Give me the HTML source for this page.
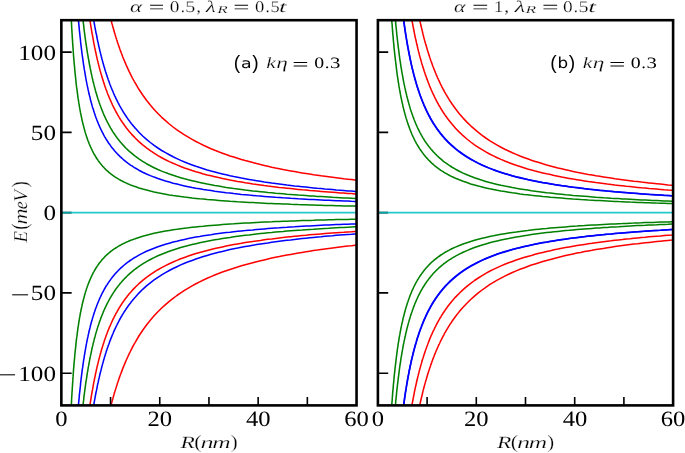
<!DOCTYPE html>
<html><head><meta charset="utf-8"><style>
html,body{margin:0;padding:0;background:#fff;}
body{width:685px;height:453px;overflow:hidden;}
svg{display:block;text-rendering:geometricPrecision;}
</style></head><body>
<svg width="685" height="453" viewBox="0 0 685 453">
<rect width="100%" height="100%" fill="#fff"/>
<clipPath id="c0"><rect x="61.35" y="20.20" width="295.20" height="385.20"/></clipPath>
<g clip-path="url(#c0)" fill="none" stroke-width="1.55" stroke-linejoin="round">
<polyline stroke="#008000" points="70.2,-4.1 70.3,-1.2 70.4,1.6 70.6,4.4 70.7,7.2 70.8,9.9 70.9,12.6 71.1,15.2 71.2,17.9 71.3,20.4 71.5,23.0 71.6,25.5 71.7,28.0 71.9,30.4 72.0,32.8 72.2,35.2 72.3,37.6 72.5,39.9 72.6,42.2 72.8,44.4 72.9,46.7 73.1,48.9 73.2,51.0 73.4,53.2 73.5,55.3 73.7,57.4 73.9,59.4 74.0,61.5 74.2,63.5 74.4,65.4 74.6,67.4 74.7,69.3 74.9,71.2 75.1,73.1 75.3,74.9 75.5,76.8 75.7,78.6 75.9,80.3 76.0,82.1 76.2,83.8 76.4,85.5 76.6,87.2 76.9,88.9 77.1,90.5 77.3,92.1 77.5,93.7 77.7,95.3 77.9,96.9 78.1,98.4 78.4,99.9 78.6,101.4 78.8,102.9 79.1,104.3 79.3,105.8 79.5,107.2 79.8,108.6 80.0,109.9 80.3,111.3 80.5,112.7 80.8,114.0 81.1,115.3 81.3,116.6 81.6,117.8 81.9,119.1 82.1,120.3 82.4,121.6 82.7,122.8 83.0,124.0 83.3,125.1 83.6,126.3 83.9,127.4 84.2,128.6 84.5,129.7 84.8,130.8 85.1,131.9 85.4,132.9 85.7,134.0 86.1,135.0 86.4,136.1 86.7,137.1 87.1,138.1 87.4,139.1 87.8,140.0 88.1,141.0 88.5,141.9 88.9,142.9 89.2,143.8 89.6,144.7 90.0,145.6 90.4,146.5 90.8,147.4 91.2,148.3 91.6,149.1 92.0,149.9 92.4,150.8 92.8,151.6 93.2,152.4 93.6,153.2 94.1,154.0 94.5,154.8 95.0,155.5 95.4,156.3 95.9,157.0 96.3,157.8 96.8,158.5 97.3,159.2 97.8,159.9 98.2,160.6 98.7,161.3 99.2,162.0 99.7,162.7 100.3,163.3 100.8,164.0 101.3,164.6 101.8,165.3 102.4,165.9 102.9,166.5 103.5,167.1 104.1,167.7 104.6,168.3 105.2,168.9 105.8,169.5 106.4,170.1 107.0,170.6 107.6,171.2 108.2,171.7 108.9,172.3 109.5,172.8 110.2,173.3 110.8,173.9 111.5,174.4 112.2,174.9 112.8,175.4 113.5,175.9 114.2,176.4 114.9,176.8 115.7,177.3 116.4,177.8 117.1,178.2 117.9,178.7 118.6,179.1 119.4,179.6 120.2,180.0 121.0,180.5 121.8,180.9 122.6,181.3 123.4,181.7 124.2,182.1 125.1,182.5 125.9,182.9 126.8,183.3 127.7,183.7 128.6,184.1 129.5,184.5 130.4,184.9 131.3,185.2 132.3,185.6 133.2,185.9 134.2,186.3 135.2,186.6 138.9,187.9 142.7,189.1 146.5,190.1 150.3,191.1 154.1,192.0 157.9,192.8 161.7,193.5 165.5,194.2 169.3,194.9 173.1,195.5 176.9,196.0 180.7,196.6 184.5,197.1 188.3,197.5 192.1,198.0 195.9,198.4 199.7,198.8 203.4,199.1 207.2,199.5 211.0,199.8 214.8,200.1 218.6,200.4 222.4,200.7 226.2,201.0 230.0,201.3 233.8,201.5 237.6,201.8 241.4,202.0 245.2,202.2 249.0,202.4 252.8,202.6 256.6,202.8 260.4,203.0 264.2,203.2 267.9,203.4 271.7,203.5 275.5,203.7 279.3,203.8 283.1,204.0 286.9,204.1 290.7,204.3 294.5,204.4 298.3,204.6 302.1,204.7 305.9,204.8 309.7,204.9 313.5,205.0 317.3,205.2 321.1,205.3 324.9,205.4 328.7,205.5 332.5,205.6 336.2,205.7 340.0,205.8 343.8,205.9 347.6,205.9 351.4,206.0 355.2,206.1 359.0,206.2"/>
<polyline stroke="#008000" points="70.2,429.4 70.3,426.5 70.4,423.7 70.6,420.9 70.7,418.1 70.8,415.4 70.9,412.7 71.1,410.1 71.2,407.4 71.3,404.9 71.5,402.3 71.6,399.8 71.7,397.3 71.9,394.9 72.0,392.5 72.2,390.1 72.3,387.7 72.5,385.4 72.6,383.1 72.8,380.9 72.9,378.6 73.1,376.4 73.2,374.3 73.4,372.1 73.5,370.0 73.7,367.9 73.9,365.9 74.0,363.8 74.2,361.8 74.4,359.9 74.6,357.9 74.7,356.0 74.9,354.1 75.1,352.2 75.3,350.4 75.5,348.5 75.7,346.7 75.9,345.0 76.0,343.2 76.2,341.5 76.4,339.8 76.6,338.1 76.9,336.4 77.1,334.8 77.3,333.2 77.5,331.6 77.7,330.0 77.9,328.4 78.1,326.9 78.4,325.4 78.6,323.9 78.8,322.4 79.1,321.0 79.3,319.5 79.5,318.1 79.8,316.7 80.0,315.4 80.3,314.0 80.5,312.6 80.8,311.3 81.1,310.0 81.3,308.7 81.6,307.5 81.9,306.2 82.1,305.0 82.4,303.7 82.7,302.5 83.0,301.3 83.3,300.2 83.6,299.0 83.9,297.9 84.2,296.7 84.5,295.6 84.8,294.5 85.1,293.4 85.4,292.4 85.7,291.3 86.1,290.3 86.4,289.2 86.7,288.2 87.1,287.2 87.4,286.2 87.8,285.3 88.1,284.3 88.5,283.4 88.9,282.4 89.2,281.5 89.6,280.6 90.0,279.7 90.4,278.8 90.8,277.9 91.2,277.0 91.6,276.2 92.0,275.4 92.4,274.5 92.8,273.7 93.2,272.9 93.6,272.1 94.1,271.3 94.5,270.5 95.0,269.8 95.4,269.0 95.9,268.3 96.3,267.5 96.8,266.8 97.3,266.1 97.8,265.4 98.2,264.7 98.7,264.0 99.2,263.3 99.7,262.6 100.3,262.0 100.8,261.3 101.3,260.7 101.8,260.0 102.4,259.4 102.9,258.8 103.5,258.2 104.1,257.6 104.6,257.0 105.2,256.4 105.8,255.8 106.4,255.2 107.0,254.7 107.6,254.1 108.2,253.6 108.9,253.0 109.5,252.5 110.2,252.0 110.8,251.4 111.5,250.9 112.2,250.4 112.8,249.9 113.5,249.4 114.2,248.9 114.9,248.5 115.7,248.0 116.4,247.5 117.1,247.1 117.9,246.6 118.6,246.2 119.4,245.7 120.2,245.3 121.0,244.8 121.8,244.4 122.6,244.0 123.4,243.6 124.2,243.2 125.1,242.8 125.9,242.4 126.8,242.0 127.7,241.6 128.6,241.2 129.5,240.8 130.4,240.4 131.3,240.1 132.3,239.7 133.2,239.4 134.2,239.0 135.2,238.7 138.9,237.4 142.7,236.2 146.5,235.2 150.3,234.2 154.1,233.3 157.9,232.5 161.7,231.8 165.5,231.1 169.3,230.4 173.1,229.8 176.9,229.3 180.7,228.7 184.5,228.2 188.3,227.8 192.1,227.3 195.9,226.9 199.7,226.5 203.4,226.2 207.2,225.8 211.0,225.5 214.8,225.2 218.6,224.9 222.4,224.6 226.2,224.3 230.0,224.0 233.8,223.8 237.6,223.5 241.4,223.3 245.2,223.1 249.0,222.9 252.8,222.7 256.6,222.5 260.4,222.3 264.2,222.1 267.9,221.9 271.7,221.8 275.5,221.6 279.3,221.5 283.1,221.3 286.9,221.2 290.7,221.0 294.5,220.9 298.3,220.7 302.1,220.6 305.9,220.5 309.7,220.4 313.5,220.3 317.3,220.1 321.1,220.0 324.9,219.9 328.7,219.8 332.5,219.7 336.2,219.6 340.0,219.5 343.8,219.4 347.6,219.4 351.4,219.3 355.2,219.2 359.0,219.1"/>
<polyline stroke="#0000ff" points="76.5,-4.1 76.7,-1.9 76.9,0.2 77.0,2.3 77.2,4.4 77.3,6.4 77.5,8.5 77.6,10.5 77.8,12.5 78.0,14.5 78.1,16.4 78.3,18.4 78.5,20.3 78.6,22.2 78.8,24.1 79.0,25.9 79.2,27.8 79.3,29.6 79.5,31.4 79.7,33.2 79.9,35.0 80.1,36.8 80.3,38.5 80.5,40.2 80.6,41.9 80.8,43.6 81.0,45.3 81.2,46.9 81.4,48.6 81.6,50.2 81.8,51.8 82.0,53.4 82.2,55.0 82.4,56.5 82.7,58.1 82.9,59.6 83.1,61.1 83.3,62.6 83.5,64.1 83.7,65.6 84.0,67.0 84.2,68.5 84.4,69.9 84.7,71.3 84.9,72.7 85.1,74.1 85.4,75.5 85.6,76.8 85.8,78.2 86.1,79.5 86.3,80.8 86.6,82.1 86.8,83.4 87.1,84.7 87.3,85.9 87.6,87.2 87.9,88.4 88.1,89.7 88.4,90.9 88.7,92.1 88.9,93.3 89.2,94.5 89.5,95.6 89.8,96.8 90.1,97.9 90.3,99.1 90.6,100.2 90.9,101.3 91.2,102.4 91.5,103.5 91.8,104.6 92.1,105.6 92.4,106.7 92.7,107.7 93.1,108.8 93.4,109.8 93.7,110.8 94.0,111.8 94.3,112.8 94.7,113.8 95.0,114.8 95.3,115.8 95.7,116.7 96.0,117.7 96.4,118.6 96.7,119.5 97.1,120.5 97.4,121.4 97.8,122.3 98.2,123.2 98.5,124.1 98.9,124.9 99.3,125.8 99.6,126.7 100.0,127.5 100.4,128.3 100.8,129.2 101.2,130.0 101.6,130.8 102.0,131.6 102.4,132.4 102.8,133.2 103.2,134.0 103.7,134.8 104.1,135.6 104.5,136.3 104.9,137.1 105.4,137.8 105.8,138.6 106.2,139.3 106.7,140.0 107.2,140.7 107.6,141.5 108.1,142.2 108.5,142.9 109.0,143.5 109.5,144.2 110.0,144.9 110.5,145.6 110.9,146.2 111.4,146.9 111.9,147.5 112.4,148.2 113.0,148.8 113.5,149.5 114.0,150.1 114.5,150.7 115.0,151.3 115.6,151.9 116.1,152.5 116.7,153.1 117.2,153.7 117.8,154.3 118.3,154.9 118.9,155.4 119.5,156.0 120.1,156.6 120.7,157.1 121.2,157.7 121.8,158.2 122.5,158.7 123.1,159.3 123.7,159.8 124.3,160.3 124.9,160.8 125.6,161.4 126.2,161.9 126.9,162.4 127.5,162.9 128.2,163.4 128.8,163.8 129.5,164.3 130.2,164.8 130.9,165.3 131.6,165.7 132.3,166.2 133.0,166.7 133.7,167.1 134.4,167.6 135.2,168.0 138.9,170.2 142.7,172.2 146.5,174.0 150.3,175.6 154.1,177.1 157.9,178.5 161.7,179.8 165.5,181.0 169.3,182.1 173.1,183.2 176.9,184.1 180.7,185.1 184.5,185.9 188.3,186.7 192.1,187.5 195.9,188.2 199.7,188.8 203.4,189.5 207.2,190.1 211.0,190.6 214.8,191.2 218.6,191.7 222.4,192.2 226.2,192.7 230.0,193.1 233.8,193.6 237.6,194.0 241.4,194.4 245.2,194.7 249.0,195.1 252.8,195.4 256.6,195.8 260.4,196.1 264.2,196.4 267.9,196.7 271.7,197.0 275.5,197.3 279.3,197.5 283.1,197.8 286.9,198.0 290.7,198.3 294.5,198.5 298.3,198.8 302.1,199.0 305.9,199.2 309.7,199.4 313.5,199.6 317.3,199.8 321.1,200.0 324.9,200.2 328.7,200.3 332.5,200.5 336.2,200.7 340.0,200.8 343.8,201.0 347.6,201.1 351.4,201.3 355.2,201.4 359.0,201.6"/>
<polyline stroke="#0000ff" points="76.5,429.4 76.7,427.2 76.9,425.1 77.0,423.0 77.2,420.9 77.3,418.9 77.5,416.8 77.6,414.8 77.8,412.8 78.0,410.8 78.1,408.9 78.3,406.9 78.5,405.0 78.6,403.1 78.8,401.2 79.0,399.4 79.2,397.5 79.3,395.7 79.5,393.9 79.7,392.1 79.9,390.3 80.1,388.5 80.3,386.8 80.5,385.1 80.6,383.4 80.8,381.7 81.0,380.0 81.2,378.4 81.4,376.7 81.6,375.1 81.8,373.5 82.0,371.9 82.2,370.3 82.4,368.8 82.7,367.2 82.9,365.7 83.1,364.2 83.3,362.7 83.5,361.2 83.7,359.7 84.0,358.3 84.2,356.8 84.4,355.4 84.7,354.0 84.9,352.6 85.1,351.2 85.4,349.8 85.6,348.5 85.8,347.1 86.1,345.8 86.3,344.5 86.6,343.2 86.8,341.9 87.1,340.6 87.3,339.4 87.6,338.1 87.9,336.9 88.1,335.6 88.4,334.4 88.7,333.2 88.9,332.0 89.2,330.8 89.5,329.7 89.8,328.5 90.1,327.4 90.3,326.2 90.6,325.1 90.9,324.0 91.2,322.9 91.5,321.8 91.8,320.7 92.1,319.7 92.4,318.6 92.7,317.6 93.1,316.5 93.4,315.5 93.7,314.5 94.0,313.5 94.3,312.5 94.7,311.5 95.0,310.5 95.3,309.5 95.7,308.6 96.0,307.6 96.4,306.7 96.7,305.8 97.1,304.8 97.4,303.9 97.8,303.0 98.2,302.1 98.5,301.2 98.9,300.4 99.3,299.5 99.6,298.6 100.0,297.8 100.4,297.0 100.8,296.1 101.2,295.3 101.6,294.5 102.0,293.7 102.4,292.9 102.8,292.1 103.2,291.3 103.7,290.5 104.1,289.7 104.5,289.0 104.9,288.2 105.4,287.5 105.8,286.7 106.2,286.0 106.7,285.3 107.2,284.6 107.6,283.8 108.1,283.1 108.5,282.4 109.0,281.8 109.5,281.1 110.0,280.4 110.5,279.7 110.9,279.1 111.4,278.4 111.9,277.8 112.4,277.1 113.0,276.5 113.5,275.8 114.0,275.2 114.5,274.6 115.0,274.0 115.6,273.4 116.1,272.8 116.7,272.2 117.2,271.6 117.8,271.0 118.3,270.4 118.9,269.9 119.5,269.3 120.1,268.7 120.7,268.2 121.2,267.6 121.8,267.1 122.5,266.6 123.1,266.0 123.7,265.5 124.3,265.0 124.9,264.5 125.6,263.9 126.2,263.4 126.9,262.9 127.5,262.4 128.2,261.9 128.8,261.5 129.5,261.0 130.2,260.5 130.9,260.0 131.6,259.6 132.3,259.1 133.0,258.6 133.7,258.2 134.4,257.7 135.2,257.3 138.9,255.1 142.7,253.1 146.5,251.3 150.3,249.7 154.1,248.2 157.9,246.8 161.7,245.5 165.5,244.3 169.3,243.2 173.1,242.1 176.9,241.2 180.7,240.2 184.5,239.4 188.3,238.6 192.1,237.8 195.9,237.1 199.7,236.5 203.4,235.8 207.2,235.2 211.0,234.7 214.8,234.1 218.6,233.6 222.4,233.1 226.2,232.6 230.0,232.2 233.8,231.7 237.6,231.3 241.4,230.9 245.2,230.6 249.0,230.2 252.8,229.9 256.6,229.5 260.4,229.2 264.2,228.9 267.9,228.6 271.7,228.3 275.5,228.0 279.3,227.8 283.1,227.5 286.9,227.3 290.7,227.0 294.5,226.8 298.3,226.5 302.1,226.3 305.9,226.1 309.7,225.9 313.5,225.7 317.3,225.5 321.1,225.3 324.9,225.1 328.7,225.0 332.5,224.8 336.2,224.6 340.0,224.5 343.8,224.3 347.6,224.2 351.4,224.0 355.2,223.9 359.0,223.7"/>
<polyline stroke="#008000" points="80.6,-4.1 80.8,-2.2 80.9,-0.4 81.1,1.4 81.3,3.1 81.4,4.9 81.6,6.7 81.8,8.4 81.9,10.1 82.1,11.8 82.3,13.5 82.5,15.2 82.6,16.8 82.8,18.5 83.0,20.1 83.2,21.7 83.4,23.4 83.6,24.9 83.8,26.5 83.9,28.1 84.1,29.6 84.3,31.2 84.5,32.7 84.7,34.2 84.9,35.7 85.1,37.2 85.3,38.7 85.5,40.2 85.7,41.6 85.9,43.1 86.1,44.5 86.4,45.9 86.6,47.3 86.8,48.7 87.0,50.1 87.2,51.4 87.4,52.8 87.7,54.1 87.9,55.5 88.1,56.8 88.3,58.1 88.6,59.4 88.8,60.7 89.0,62.0 89.3,63.3 89.5,64.5 89.7,65.8 90.0,67.0 90.2,68.2 90.5,69.4 90.7,70.6 91.0,71.8 91.2,73.0 91.5,74.2 91.7,75.4 92.0,76.5 92.2,77.7 92.5,78.8 92.8,79.9 93.0,81.0 93.3,82.2 93.6,83.3 93.9,84.3 94.1,85.4 94.4,86.5 94.7,87.6 95.0,88.6 95.3,89.7 95.5,90.7 95.8,91.7 96.1,92.7 96.4,93.7 96.7,94.7 97.0,95.7 97.3,96.7 97.6,97.7 97.9,98.7 98.2,99.6 98.6,100.6 98.9,101.5 99.2,102.5 99.5,103.4 99.8,104.3 100.2,105.2 100.5,106.1 100.8,107.0 101.2,107.9 101.5,108.8 101.8,109.7 102.2,110.5 102.5,111.4 102.9,112.2 103.2,113.1 103.6,113.9 103.9,114.8 104.3,115.6 104.7,116.4 105.0,117.2 105.4,118.0 105.8,118.8 106.2,119.6 106.5,120.4 106.9,121.2 107.3,121.9 107.7,122.7 108.1,123.4 108.5,124.2 108.9,124.9 109.3,125.7 109.7,126.4 110.1,127.1 110.5,127.9 111.0,128.6 111.4,129.3 111.8,130.0 112.2,130.7 112.7,131.4 113.1,132.1 113.5,132.7 114.0,133.4 114.4,134.1 114.9,134.7 115.3,135.4 115.8,136.0 116.2,136.7 116.7,137.3 117.2,138.0 117.7,138.6 118.1,139.2 118.6,139.8 119.1,140.4 119.6,141.1 120.1,141.7 120.6,142.3 121.1,142.8 121.6,143.4 122.1,144.0 122.6,144.6 123.1,145.2 123.7,145.7 124.2,146.3 124.7,146.9 125.3,147.4 125.8,148.0 126.4,148.5 126.9,149.0 127.5,149.6 128.0,150.1 128.6,150.6 129.2,151.2 129.7,151.7 130.3,152.2 130.9,152.7 131.5,153.2 132.1,153.7 132.7,154.2 133.3,154.7 133.9,155.2 134.5,155.7 135.2,156.1 138.9,158.9 142.7,161.4 146.5,163.7 150.3,165.8 154.1,167.7 157.9,169.5 161.7,171.1 165.5,172.6 169.3,174.0 173.1,175.3 176.9,176.6 180.7,177.7 184.5,178.8 188.3,179.8 192.1,180.7 195.9,181.6 199.7,182.5 203.4,183.3 207.2,184.1 211.0,184.8 214.8,185.5 218.6,186.1 222.4,186.8 226.2,187.4 230.0,187.9 233.8,188.5 237.6,189.0 241.4,189.5 245.2,190.0 249.0,190.4 252.8,190.9 256.6,191.3 260.4,191.7 264.2,192.1 267.9,192.5 271.7,192.8 275.5,193.2 279.3,193.5 283.1,193.8 286.9,194.2 290.7,194.5 294.5,194.8 298.3,195.1 302.1,195.3 305.9,195.6 309.7,195.9 313.5,196.1 317.3,196.4 321.1,196.6 324.9,196.8 328.7,197.0 332.5,197.3 336.2,197.5 340.0,197.7 343.8,197.9 347.6,198.1 351.4,198.3 355.2,198.5 359.0,198.6"/>
<polyline stroke="#008000" points="80.6,429.4 80.8,427.5 80.9,425.7 81.1,423.9 81.3,422.2 81.4,420.4 81.6,418.6 81.8,416.9 81.9,415.2 82.1,413.5 82.3,411.8 82.5,410.1 82.6,408.5 82.8,406.8 83.0,405.2 83.2,403.6 83.4,401.9 83.6,400.4 83.8,398.8 83.9,397.2 84.1,395.7 84.3,394.1 84.5,392.6 84.7,391.1 84.9,389.6 85.1,388.1 85.3,386.6 85.5,385.1 85.7,383.7 85.9,382.2 86.1,380.8 86.4,379.4 86.6,378.0 86.8,376.6 87.0,375.2 87.2,373.9 87.4,372.5 87.7,371.2 87.9,369.8 88.1,368.5 88.3,367.2 88.6,365.9 88.8,364.6 89.0,363.3 89.3,362.0 89.5,360.8 89.7,359.5 90.0,358.3 90.2,357.1 90.5,355.9 90.7,354.7 91.0,353.5 91.2,352.3 91.5,351.1 91.7,349.9 92.0,348.8 92.2,347.6 92.5,346.5 92.8,345.4 93.0,344.3 93.3,343.1 93.6,342.0 93.9,341.0 94.1,339.9 94.4,338.8 94.7,337.7 95.0,336.7 95.3,335.6 95.5,334.6 95.8,333.6 96.1,332.6 96.4,331.6 96.7,330.6 97.0,329.6 97.3,328.6 97.6,327.6 97.9,326.6 98.2,325.7 98.6,324.7 98.9,323.8 99.2,322.8 99.5,321.9 99.8,321.0 100.2,320.1 100.5,319.2 100.8,318.3 101.2,317.4 101.5,316.5 101.8,315.6 102.2,314.8 102.5,313.9 102.9,313.1 103.2,312.2 103.6,311.4 103.9,310.5 104.3,309.7 104.7,308.9 105.0,308.1 105.4,307.3 105.8,306.5 106.2,305.7 106.5,304.9 106.9,304.1 107.3,303.4 107.7,302.6 108.1,301.9 108.5,301.1 108.9,300.4 109.3,299.6 109.7,298.9 110.1,298.2 110.5,297.4 111.0,296.7 111.4,296.0 111.8,295.3 112.2,294.6 112.7,293.9 113.1,293.2 113.5,292.6 114.0,291.9 114.4,291.2 114.9,290.6 115.3,289.9 115.8,289.3 116.2,288.6 116.7,288.0 117.2,287.3 117.7,286.7 118.1,286.1 118.6,285.5 119.1,284.9 119.6,284.2 120.1,283.6 120.6,283.0 121.1,282.5 121.6,281.9 122.1,281.3 122.6,280.7 123.1,280.1 123.7,279.6 124.2,279.0 124.7,278.4 125.3,277.9 125.8,277.3 126.4,276.8 126.9,276.3 127.5,275.7 128.0,275.2 128.6,274.7 129.2,274.1 129.7,273.6 130.3,273.1 130.9,272.6 131.5,272.1 132.1,271.6 132.7,271.1 133.3,270.6 133.9,270.1 134.5,269.6 135.2,269.2 138.9,266.4 142.7,263.9 146.5,261.6 150.3,259.5 154.1,257.6 157.9,255.8 161.7,254.2 165.5,252.7 169.3,251.3 173.1,250.0 176.9,248.7 180.7,247.6 184.5,246.5 188.3,245.5 192.1,244.6 195.9,243.7 199.7,242.8 203.4,242.0 207.2,241.2 211.0,240.5 214.8,239.8 218.6,239.2 222.4,238.5 226.2,237.9 230.0,237.4 233.8,236.8 237.6,236.3 241.4,235.8 245.2,235.3 249.0,234.9 252.8,234.4 256.6,234.0 260.4,233.6 264.2,233.2 267.9,232.8 271.7,232.5 275.5,232.1 279.3,231.8 283.1,231.5 286.9,231.1 290.7,230.8 294.5,230.5 298.3,230.2 302.1,230.0 305.9,229.7 309.7,229.4 313.5,229.2 317.3,228.9 321.1,228.7 324.9,228.5 328.7,228.3 332.5,228.0 336.2,227.8 340.0,227.6 343.8,227.4 347.6,227.2 351.4,227.0 355.2,226.8 359.0,226.7"/>
<polyline stroke="#ff0000" points="86.8,-4.1 87.0,-2.6 87.1,-1.2 87.3,0.2 87.5,1.7 87.7,3.1 87.8,4.5 88.0,5.9 88.2,7.2 88.4,8.6 88.6,10.0 88.7,11.3 88.9,12.7 89.1,14.0 89.3,15.3 89.5,16.7 89.7,18.0 89.9,19.3 90.0,20.6 90.2,21.8 90.4,23.1 90.6,24.4 90.8,25.6 91.0,26.9 91.2,28.1 91.4,29.4 91.6,30.6 91.8,31.8 92.0,33.0 92.2,34.2 92.5,35.4 92.7,36.6 92.9,37.7 93.1,38.9 93.3,40.1 93.5,41.2 93.7,42.4 93.9,43.5 94.2,44.6 94.4,45.8 94.6,46.9 94.8,48.0 95.1,49.1 95.3,50.2 95.5,51.3 95.7,52.3 96.0,53.4 96.2,54.5 96.4,55.5 96.7,56.6 96.9,57.6 97.1,58.7 97.4,59.7 97.6,60.7 97.9,61.7 98.1,62.7 98.4,63.7 98.6,64.7 98.9,65.7 99.1,66.7 99.4,67.7 99.6,68.6 99.9,69.6 100.1,70.5 100.4,71.5 100.7,72.4 100.9,73.4 101.2,74.3 101.5,75.2 101.7,76.1 102.0,77.1 102.3,78.0 102.6,78.9 102.8,79.8 103.1,80.6 103.4,81.5 103.7,82.4 104.0,83.3 104.2,84.1 104.5,85.0 104.8,85.8 105.1,86.7 105.4,87.5 105.7,88.4 106.0,89.2 106.3,90.0 106.6,90.8 106.9,91.6 107.2,92.5 107.5,93.3 107.8,94.1 108.1,94.8 108.5,95.6 108.8,96.4 109.1,97.2 109.4,98.0 109.7,98.7 110.1,99.5 110.4,100.2 110.7,101.0 111.1,101.7 111.4,102.5 111.7,103.2 112.1,103.9 112.4,104.7 112.7,105.4 113.1,106.1 113.4,106.8 113.8,107.5 114.1,108.2 114.5,108.9 114.9,109.6 115.2,110.3 115.6,111.0 115.9,111.7 116.3,112.3 116.7,113.0 117.1,113.7 117.4,114.3 117.8,115.0 118.2,115.6 118.6,116.3 118.9,116.9 119.3,117.6 119.7,118.2 120.1,118.8 120.5,119.5 120.9,120.1 121.3,120.7 121.7,121.3 122.1,121.9 122.5,122.5 122.9,123.1 123.4,123.7 123.8,124.3 124.2,124.9 124.6,125.5 125.0,126.1 125.5,126.7 125.9,127.2 126.3,127.8 126.8,128.4 127.2,128.9 127.6,129.5 128.1,130.1 128.5,130.6 129.0,131.2 129.4,131.7 129.9,132.2 130.4,132.8 130.8,133.3 131.3,133.8 131.8,134.4 132.2,134.9 132.7,135.4 133.2,135.9 133.7,136.4 134.2,136.9 134.7,137.4 135.2,138.0 138.9,141.6 142.7,144.9 146.5,147.9 150.3,150.7 154.1,153.2 157.9,155.6 161.7,157.7 165.5,159.7 169.3,161.6 173.1,163.3 176.9,164.9 180.7,166.5 184.5,167.9 188.3,169.2 192.1,170.5 195.9,171.7 199.7,172.8 203.4,173.9 207.2,174.9 211.0,175.8 214.8,176.7 218.6,177.6 222.4,178.4 226.2,179.2 230.0,180.0 233.8,180.7 237.6,181.4 241.4,182.0 245.2,182.7 249.0,183.3 252.8,183.9 256.6,184.4 260.4,184.9 264.2,185.5 267.9,186.0 271.7,186.4 275.5,186.9 279.3,187.4 283.1,187.8 286.9,188.2 290.7,188.6 294.5,189.0 298.3,189.4 302.1,189.8 305.9,190.1 309.7,190.5 313.5,190.8 317.3,191.1 321.1,191.4 324.9,191.7 328.7,192.0 332.5,192.3 336.2,192.6 340.0,192.9 343.8,193.1 347.6,193.4 351.4,193.6 355.2,193.9 359.0,194.1"/>
<polyline stroke="#ff0000" points="86.8,429.4 87.0,427.9 87.1,426.5 87.3,425.1 87.5,423.6 87.7,422.2 87.8,420.8 88.0,419.4 88.2,418.1 88.4,416.7 88.6,415.3 88.7,414.0 88.9,412.6 89.1,411.3 89.3,410.0 89.5,408.6 89.7,407.3 89.9,406.0 90.0,404.7 90.2,403.5 90.4,402.2 90.6,400.9 90.8,399.7 91.0,398.4 91.2,397.2 91.4,395.9 91.6,394.7 91.8,393.5 92.0,392.3 92.2,391.1 92.5,389.9 92.7,388.7 92.9,387.6 93.1,386.4 93.3,385.2 93.5,384.1 93.7,382.9 93.9,381.8 94.2,380.7 94.4,379.5 94.6,378.4 94.8,377.3 95.1,376.2 95.3,375.1 95.5,374.0 95.7,373.0 96.0,371.9 96.2,370.8 96.4,369.8 96.7,368.7 96.9,367.7 97.1,366.6 97.4,365.6 97.6,364.6 97.9,363.6 98.1,362.6 98.4,361.6 98.6,360.6 98.9,359.6 99.1,358.6 99.4,357.6 99.6,356.7 99.9,355.7 100.1,354.8 100.4,353.8 100.7,352.9 100.9,351.9 101.2,351.0 101.5,350.1 101.7,349.2 102.0,348.2 102.3,347.3 102.6,346.4 102.8,345.5 103.1,344.7 103.4,343.8 103.7,342.9 104.0,342.0 104.2,341.2 104.5,340.3 104.8,339.5 105.1,338.6 105.4,337.8 105.7,336.9 106.0,336.1 106.3,335.3 106.6,334.5 106.9,333.7 107.2,332.8 107.5,332.0 107.8,331.2 108.1,330.5 108.5,329.7 108.8,328.9 109.1,328.1 109.4,327.3 109.7,326.6 110.1,325.8 110.4,325.1 110.7,324.3 111.1,323.6 111.4,322.8 111.7,322.1 112.1,321.4 112.4,320.6 112.7,319.9 113.1,319.2 113.4,318.5 113.8,317.8 114.1,317.1 114.5,316.4 114.9,315.7 115.2,315.0 115.6,314.3 115.9,313.6 116.3,313.0 116.7,312.3 117.1,311.6 117.4,311.0 117.8,310.3 118.2,309.7 118.6,309.0 118.9,308.4 119.3,307.7 119.7,307.1 120.1,306.5 120.5,305.8 120.9,305.2 121.3,304.6 121.7,304.0 122.1,303.4 122.5,302.8 122.9,302.2 123.4,301.6 123.8,301.0 124.2,300.4 124.6,299.8 125.0,299.2 125.5,298.6 125.9,298.1 126.3,297.5 126.8,296.9 127.2,296.4 127.6,295.8 128.1,295.2 128.5,294.7 129.0,294.1 129.4,293.6 129.9,293.1 130.4,292.5 130.8,292.0 131.3,291.5 131.8,290.9 132.2,290.4 132.7,289.9 133.2,289.4 133.7,288.9 134.2,288.4 134.7,287.9 135.2,287.3 138.9,283.7 142.7,280.4 146.5,277.4 150.3,274.6 154.1,272.1 157.9,269.7 161.7,267.6 165.5,265.6 169.3,263.7 173.1,262.0 176.9,260.4 180.7,258.8 184.5,257.4 188.3,256.1 192.1,254.8 195.9,253.6 199.7,252.5 203.4,251.4 207.2,250.4 211.0,249.5 214.8,248.6 218.6,247.7 222.4,246.9 226.2,246.1 230.0,245.3 233.8,244.6 237.6,243.9 241.4,243.3 245.2,242.6 249.0,242.0 252.8,241.4 256.6,240.9 260.4,240.4 264.2,239.8 267.9,239.3 271.7,238.9 275.5,238.4 279.3,237.9 283.1,237.5 286.9,237.1 290.7,236.7 294.5,236.3 298.3,235.9 302.1,235.5 305.9,235.2 309.7,234.8 313.5,234.5 317.3,234.2 321.1,233.9 324.9,233.6 328.7,233.3 332.5,233.0 336.2,232.7 340.0,232.4 343.8,232.2 347.6,231.9 351.4,231.7 355.2,231.4 359.0,231.2"/>
<polyline stroke="#0000ff" points="90.1,-4.1 90.3,-2.8 90.5,-1.5 90.7,-0.3 90.8,1.0 91.0,2.3 91.2,3.5 91.4,4.7 91.5,6.0 91.7,7.2 91.9,8.4 92.1,9.6 92.3,10.8 92.4,12.0 92.6,13.2 92.8,14.3 93.0,15.5 93.2,16.7 93.4,17.8 93.6,19.0 93.8,20.1 94.0,21.3 94.1,22.4 94.3,23.5 94.5,24.6 94.7,25.7 94.9,26.9 95.1,27.9 95.3,29.0 95.5,30.1 95.7,31.2 95.9,32.3 96.1,33.3 96.4,34.4 96.6,35.4 96.8,36.5 97.0,37.5 97.2,38.6 97.4,39.6 97.6,40.6 97.8,41.6 98.1,42.6 98.3,43.6 98.5,44.6 98.7,45.6 98.9,46.6 99.2,47.6 99.4,48.6 99.6,49.5 99.8,50.5 100.1,51.5 100.3,52.4 100.5,53.4 100.8,54.3 101.0,55.2 101.2,56.2 101.5,57.1 101.7,58.0 101.9,58.9 102.2,59.8 102.4,60.7 102.7,61.6 102.9,62.5 103.2,63.4 103.4,64.3 103.7,65.2 103.9,66.0 104.2,66.9 104.4,67.8 104.7,68.6 104.9,69.5 105.2,70.3 105.4,71.1 105.7,72.0 106.0,72.8 106.2,73.6 106.5,74.5 106.8,75.3 107.0,76.1 107.3,76.9 107.6,77.7 107.9,78.5 108.1,79.3 108.4,80.1 108.7,80.8 109.0,81.6 109.3,82.4 109.5,83.2 109.8,83.9 110.1,84.7 110.4,85.4 110.7,86.2 111.0,86.9 111.3,87.7 111.6,88.4 111.9,89.2 112.2,89.9 112.5,90.6 112.8,91.3 113.1,92.0 113.4,92.8 113.7,93.5 114.0,94.2 114.3,94.9 114.6,95.6 115.0,96.3 115.3,96.9 115.6,97.6 115.9,98.3 116.2,99.0 116.6,99.7 116.9,100.3 117.2,101.0 117.6,101.6 117.9,102.3 118.2,102.9 118.6,103.6 118.9,104.2 119.2,104.9 119.6,105.5 119.9,106.1 120.3,106.8 120.6,107.4 121.0,108.0 121.3,108.6 121.7,109.3 122.1,109.9 122.4,110.5 122.8,111.1 123.1,111.7 123.5,112.3 123.9,112.9 124.2,113.5 124.6,114.0 125.0,114.6 125.4,115.2 125.8,115.8 126.1,116.3 126.5,116.9 126.9,117.5 127.3,118.0 127.7,118.6 128.1,119.2 128.5,119.7 128.9,120.3 129.3,120.8 129.7,121.3 130.1,121.9 130.5,122.4 130.9,122.9 131.3,123.5 131.7,124.0 132.2,124.5 132.6,125.0 133.0,125.6 133.4,126.1 133.9,126.6 134.3,127.1 134.7,127.6 135.2,128.1 138.9,132.2 142.7,136.0 146.5,139.4 150.3,142.5 154.1,145.4 157.9,148.0 161.7,150.5 165.5,152.7 169.3,154.8 173.1,156.8 176.9,158.6 180.7,160.4 184.5,162.0 188.3,163.5 192.1,164.9 195.9,166.3 199.7,167.5 203.4,168.7 207.2,169.9 211.0,171.0 214.8,172.0 218.6,173.0 222.4,173.9 226.2,174.8 230.0,175.7 233.8,176.5 237.6,177.2 241.4,178.0 245.2,178.7 249.0,179.4 252.8,180.1 256.6,180.7 260.4,181.3 264.2,181.9 267.9,182.4 271.7,183.0 275.5,183.5 279.3,184.0 283.1,184.5 286.9,185.0 290.7,185.4 294.5,185.9 298.3,186.3 302.1,186.7 305.9,187.1 309.7,187.5 313.5,187.9 317.3,188.3 321.1,188.6 324.9,189.0 328.7,189.3 332.5,189.6 336.2,190.0 340.0,190.3 343.8,190.6 347.6,190.9 351.4,191.1 355.2,191.4 359.0,191.7"/>
<polyline stroke="#0000ff" points="90.1,429.4 90.3,428.1 90.5,426.8 90.7,425.6 90.8,424.3 91.0,423.0 91.2,421.8 91.4,420.6 91.5,419.3 91.7,418.1 91.9,416.9 92.1,415.7 92.3,414.5 92.4,413.3 92.6,412.1 92.8,411.0 93.0,409.8 93.2,408.6 93.4,407.5 93.6,406.3 93.8,405.2 94.0,404.0 94.1,402.9 94.3,401.8 94.5,400.7 94.7,399.6 94.9,398.4 95.1,397.4 95.3,396.3 95.5,395.2 95.7,394.1 95.9,393.0 96.1,392.0 96.4,390.9 96.6,389.9 96.8,388.8 97.0,387.8 97.2,386.7 97.4,385.7 97.6,384.7 97.8,383.7 98.1,382.7 98.3,381.7 98.5,380.7 98.7,379.7 98.9,378.7 99.2,377.7 99.4,376.7 99.6,375.8 99.8,374.8 100.1,373.8 100.3,372.9 100.5,371.9 100.8,371.0 101.0,370.1 101.2,369.1 101.5,368.2 101.7,367.3 101.9,366.4 102.2,365.5 102.4,364.6 102.7,363.7 102.9,362.8 103.2,361.9 103.4,361.0 103.7,360.1 103.9,359.3 104.2,358.4 104.4,357.5 104.7,356.7 104.9,355.8 105.2,355.0 105.4,354.2 105.7,353.3 106.0,352.5 106.2,351.7 106.5,350.8 106.8,350.0 107.0,349.2 107.3,348.4 107.6,347.6 107.9,346.8 108.1,346.0 108.4,345.2 108.7,344.5 109.0,343.7 109.3,342.9 109.5,342.1 109.8,341.4 110.1,340.6 110.4,339.9 110.7,339.1 111.0,338.4 111.3,337.6 111.6,336.9 111.9,336.1 112.2,335.4 112.5,334.7 112.8,334.0 113.1,333.3 113.4,332.5 113.7,331.8 114.0,331.1 114.3,330.4 114.6,329.7 115.0,329.0 115.3,328.4 115.6,327.7 115.9,327.0 116.2,326.3 116.6,325.6 116.9,325.0 117.2,324.3 117.6,323.7 117.9,323.0 118.2,322.4 118.6,321.7 118.9,321.1 119.2,320.4 119.6,319.8 119.9,319.2 120.3,318.5 120.6,317.9 121.0,317.3 121.3,316.7 121.7,316.0 122.1,315.4 122.4,314.8 122.8,314.2 123.1,313.6 123.5,313.0 123.9,312.4 124.2,311.8 124.6,311.3 125.0,310.7 125.4,310.1 125.8,309.5 126.1,309.0 126.5,308.4 126.9,307.8 127.3,307.3 127.7,306.7 128.1,306.1 128.5,305.6 128.9,305.0 129.3,304.5 129.7,304.0 130.1,303.4 130.5,302.9 130.9,302.4 131.3,301.8 131.7,301.3 132.2,300.8 132.6,300.3 133.0,299.7 133.4,299.2 133.9,298.7 134.3,298.2 134.7,297.7 135.2,297.2 138.9,293.1 142.7,289.3 146.5,285.9 150.3,282.8 154.1,279.9 157.9,277.3 161.7,274.8 165.5,272.6 169.3,270.5 173.1,268.5 176.9,266.7 180.7,264.9 184.5,263.3 188.3,261.8 192.1,260.4 195.9,259.0 199.7,257.8 203.4,256.6 207.2,255.4 211.0,254.3 214.8,253.3 218.6,252.3 222.4,251.4 226.2,250.5 230.0,249.6 233.8,248.8 237.6,248.1 241.4,247.3 245.2,246.6 249.0,245.9 252.8,245.2 256.6,244.6 260.4,244.0 264.2,243.4 267.9,242.9 271.7,242.3 275.5,241.8 279.3,241.3 283.1,240.8 286.9,240.3 290.7,239.9 294.5,239.4 298.3,239.0 302.1,238.6 305.9,238.2 309.7,237.8 313.5,237.4 317.3,237.0 321.1,236.7 324.9,236.3 328.7,236.0 332.5,235.7 336.2,235.3 340.0,235.0 343.8,234.7 347.6,234.4 351.4,234.2 355.2,233.9 359.0,233.6"/>
<polyline stroke="#ff0000" points="105.5,-4.1 105.7,-3.4 105.8,-2.7 106.0,-2.0 106.1,-1.3 106.2,-0.6 106.4,0.1 106.5,0.8 106.7,1.5 106.8,2.1 107.0,2.8 107.1,3.5 107.3,4.2 107.4,4.8 107.6,5.5 107.7,6.2 107.9,6.8 108.0,7.5 108.2,8.2 108.3,8.8 108.5,9.5 108.6,10.1 108.8,10.8 108.9,11.4 109.1,12.1 109.2,12.7 109.4,13.4 109.5,14.0 109.7,14.7 109.9,15.3 110.0,15.9 110.2,16.6 110.3,17.2 110.5,17.8 110.6,18.5 110.8,19.1 111.0,19.7 111.1,20.3 111.3,21.0 111.4,21.6 111.6,22.2 111.8,22.8 111.9,23.4 112.1,24.0 112.3,24.6 112.4,25.2 112.6,25.8 112.8,26.4 112.9,27.0 113.1,27.6 113.3,28.2 113.4,28.8 113.6,29.4 113.8,30.0 113.9,30.6 114.1,31.2 114.3,31.8 114.4,32.4 114.6,32.9 114.8,33.5 115.0,34.1 115.1,34.7 115.3,35.2 115.5,35.8 115.7,36.4 115.8,37.0 116.0,37.5 116.2,38.1 116.4,38.6 116.5,39.2 116.7,39.8 116.9,40.3 117.1,40.9 117.3,41.4 117.4,42.0 117.6,42.5 117.8,43.1 118.0,43.6 118.2,44.2 118.4,44.7 118.5,45.3 118.7,45.8 118.9,46.3 119.1,46.9 119.3,47.4 119.5,47.9 119.7,48.5 119.8,49.0 120.0,49.5 120.2,50.1 120.4,50.6 120.6,51.1 120.8,51.6 121.0,52.1 121.2,52.7 121.4,53.2 121.6,53.7 121.8,54.2 122.0,54.7 122.2,55.2 122.4,55.7 122.5,56.2 122.7,56.7 122.9,57.2 123.1,57.7 123.3,58.2 123.5,58.7 123.7,59.2 123.9,59.7 124.1,60.2 124.4,60.7 124.6,61.2 124.8,61.7 125.0,62.2 125.2,62.7 125.4,63.1 125.6,63.6 125.8,64.1 126.0,64.6 126.2,65.1 126.4,65.5 126.6,66.0 126.8,66.5 127.1,67.0 127.3,67.4 127.5,67.9 127.7,68.4 127.9,68.8 128.1,69.3 128.3,69.8 128.6,70.2 128.8,70.7 129.0,71.1 129.2,71.6 129.4,72.0 129.6,72.5 129.9,72.9 130.1,73.4 130.3,73.8 130.5,74.3 130.8,74.7 131.0,75.2 131.2,75.6 131.4,76.1 131.7,76.5 131.9,76.9 132.1,77.4 132.3,77.8 132.6,78.3 132.8,78.7 133.0,79.1 133.3,79.5 133.5,80.0 133.7,80.4 134.0,80.8 134.2,81.3 134.4,81.7 134.7,82.1 134.9,82.5 135.2,82.9 138.9,89.3 142.7,95.0 146.5,100.3 150.3,105.1 154.1,109.5 157.9,113.5 161.7,117.3 165.5,120.7 169.3,124.0 173.1,127.0 176.9,129.8 180.7,132.4 184.5,134.9 188.3,137.2 192.1,139.4 195.9,141.5 199.7,143.4 203.4,145.3 207.2,147.0 211.0,148.7 214.8,150.3 218.6,151.8 222.4,153.2 226.2,154.6 230.0,155.9 233.8,157.1 237.6,158.3 241.4,159.5 245.2,160.6 249.0,161.6 252.8,162.6 256.6,163.6 260.4,164.5 264.2,165.4 267.9,166.3 271.7,167.2 275.5,168.0 279.3,168.7 283.1,169.5 286.9,170.2 290.7,170.9 294.5,171.6 298.3,172.3 302.1,172.9 305.9,173.5 309.7,174.1 313.5,174.7 317.3,175.2 321.1,175.8 324.9,176.3 328.7,176.8 332.5,177.3 336.2,177.8 340.0,178.3 343.8,178.8 347.6,179.2 351.4,179.6 355.2,180.1 359.0,180.5"/>
<polyline stroke="#ff0000" points="105.5,429.4 105.7,428.7 105.8,428.0 106.0,427.3 106.1,426.6 106.2,425.9 106.4,425.2 106.5,424.5 106.7,423.8 106.8,423.2 107.0,422.5 107.1,421.8 107.3,421.1 107.4,420.5 107.6,419.8 107.7,419.1 107.9,418.5 108.0,417.8 108.2,417.1 108.3,416.5 108.5,415.8 108.6,415.2 108.8,414.5 108.9,413.9 109.1,413.2 109.2,412.6 109.4,411.9 109.5,411.3 109.7,410.6 109.9,410.0 110.0,409.4 110.2,408.7 110.3,408.1 110.5,407.5 110.6,406.8 110.8,406.2 111.0,405.6 111.1,405.0 111.3,404.3 111.4,403.7 111.6,403.1 111.8,402.5 111.9,401.9 112.1,401.3 112.3,400.7 112.4,400.1 112.6,399.5 112.8,398.9 112.9,398.3 113.1,397.7 113.3,397.1 113.4,396.5 113.6,395.9 113.8,395.3 113.9,394.7 114.1,394.1 114.3,393.5 114.4,392.9 114.6,392.4 114.8,391.8 115.0,391.2 115.1,390.6 115.3,390.1 115.5,389.5 115.7,388.9 115.8,388.3 116.0,387.8 116.2,387.2 116.4,386.7 116.5,386.1 116.7,385.5 116.9,385.0 117.1,384.4 117.3,383.9 117.4,383.3 117.6,382.8 117.8,382.2 118.0,381.7 118.2,381.1 118.4,380.6 118.5,380.0 118.7,379.5 118.9,379.0 119.1,378.4 119.3,377.9 119.5,377.4 119.7,376.8 119.8,376.3 120.0,375.8 120.2,375.2 120.4,374.7 120.6,374.2 120.8,373.7 121.0,373.2 121.2,372.6 121.4,372.1 121.6,371.6 121.8,371.1 122.0,370.6 122.2,370.1 122.4,369.6 122.5,369.1 122.7,368.6 122.9,368.1 123.1,367.6 123.3,367.1 123.5,366.6 123.7,366.1 123.9,365.6 124.1,365.1 124.4,364.6 124.6,364.1 124.8,363.6 125.0,363.1 125.2,362.6 125.4,362.2 125.6,361.7 125.8,361.2 126.0,360.7 126.2,360.2 126.4,359.8 126.6,359.3 126.8,358.8 127.1,358.3 127.3,357.9 127.5,357.4 127.7,356.9 127.9,356.5 128.1,356.0 128.3,355.5 128.6,355.1 128.8,354.6 129.0,354.2 129.2,353.7 129.4,353.3 129.6,352.8 129.9,352.4 130.1,351.9 130.3,351.5 130.5,351.0 130.8,350.6 131.0,350.1 131.2,349.7 131.4,349.2 131.7,348.8 131.9,348.4 132.1,347.9 132.3,347.5 132.6,347.0 132.8,346.6 133.0,346.2 133.3,345.8 133.5,345.3 133.7,344.9 134.0,344.5 134.2,344.0 134.4,343.6 134.7,343.2 134.9,342.8 135.2,342.4 138.9,336.0 142.7,330.3 146.5,325.0 150.3,320.2 154.1,315.8 157.9,311.8 161.7,308.0 165.5,304.6 169.3,301.3 173.1,298.3 176.9,295.5 180.7,292.9 184.5,290.4 188.3,288.1 192.1,285.9 195.9,283.8 199.7,281.9 203.4,280.0 207.2,278.3 211.0,276.6 214.8,275.0 218.6,273.5 222.4,272.1 226.2,270.7 230.0,269.4 233.8,268.2 237.6,267.0 241.4,265.8 245.2,264.7 249.0,263.7 252.8,262.7 256.6,261.7 260.4,260.8 264.2,259.9 267.9,259.0 271.7,258.1 275.5,257.3 279.3,256.6 283.1,255.8 286.9,255.1 290.7,254.4 294.5,253.7 298.3,253.0 302.1,252.4 305.9,251.8 309.7,251.2 313.5,250.6 317.3,250.1 321.1,249.5 324.9,249.0 328.7,248.5 332.5,248.0 336.2,247.5 340.0,247.0 343.8,246.5 347.6,246.1 351.4,245.7 355.2,245.2 359.0,244.8"/>
</g>
<path d="M61.35 52.12H71.65 M61.35 132.38H71.65 M61.35 212.65H71.65 M61.35 292.92H71.65 M61.35 373.18H71.65 M110.55 405.40V396.90 M159.75 405.40V396.90 M208.95 405.40V396.90 M258.15 405.40V396.90 M307.35 405.40V396.90" stroke="#000" stroke-width="1.6" fill="none"/>
<path d="M61.35 212.65H356.55" stroke="#00bfbf" stroke-opacity="0.85" stroke-width="1.8"/>
<rect x="61.35" y="20.20" width="295.20" height="385.20" fill="none" stroke="#000" stroke-width="2.6"/>
<clipPath id="c1"><rect x="377.90" y="20.20" width="295.20" height="385.20"/></clipPath>
<g clip-path="url(#c1)" fill="none" stroke-width="1.55" stroke-linejoin="round">
<polyline stroke="#008000" points="390.2,-4.1 390.4,-1.6 390.5,0.8 390.6,3.1 390.8,5.5 390.9,7.8 391.1,10.1 391.2,12.4 391.4,14.6 391.5,16.8 391.7,19.0 391.8,21.2 392.0,23.3 392.2,25.4 392.3,27.5 392.5,29.6 392.6,31.7 392.8,33.7 393.0,35.7 393.2,37.7 393.3,39.6 393.5,41.6 393.7,43.5 393.9,45.4 394.0,47.3 394.2,49.1 394.4,50.9 394.6,52.7 394.8,54.5 395.0,56.3 395.2,58.1 395.4,59.8 395.6,61.5 395.8,63.2 396.0,64.9 396.2,66.5 396.4,68.2 396.6,69.8 396.8,71.4 397.0,73.0 397.2,74.5 397.4,76.1 397.7,77.6 397.9,79.1 398.1,80.6 398.3,82.1 398.6,83.5 398.8,85.0 399.0,86.4 399.3,87.8 399.5,89.2 399.8,90.6 400.0,92.0 400.3,93.3 400.5,94.7 400.8,96.0 401.0,97.3 401.3,98.6 401.6,99.9 401.8,101.1 402.1,102.4 402.4,103.6 402.7,104.8 402.9,106.0 403.2,107.2 403.5,108.4 403.8,109.6 404.1,110.7 404.4,111.9 404.7,113.0 405.0,114.1 405.3,115.2 405.6,116.3 405.9,117.4 406.2,118.5 406.6,119.5 406.9,120.6 407.2,121.6 407.5,122.6 407.9,123.6 408.2,124.6 408.6,125.6 408.9,126.6 409.3,127.5 409.6,128.5 410.0,129.4 410.3,130.4 410.7,131.3 411.1,132.2 411.5,133.1 411.8,134.0 412.2,134.9 412.6,135.7 413.0,136.6 413.4,137.4 413.8,138.3 414.2,139.1 414.6,139.9 415.0,140.8 415.5,141.6 415.9,142.4 416.3,143.1 416.7,143.9 417.2,144.7 417.6,145.5 418.1,146.2 418.5,147.0 419.0,147.7 419.5,148.4 419.9,149.1 420.4,149.8 420.9,150.5 421.4,151.2 421.9,151.9 422.4,152.6 422.9,153.3 423.4,153.9 423.9,154.6 424.4,155.3 424.9,155.9 425.5,156.5 426.0,157.2 426.6,157.8 427.1,158.4 427.7,159.0 428.2,159.6 428.8,160.2 429.4,160.8 430.0,161.4 430.5,161.9 431.1,162.5 431.7,163.1 432.4,163.6 433.0,164.2 433.6,164.7 434.2,165.3 434.9,165.8 435.5,166.3 436.2,166.8 436.8,167.3 437.5,167.8 438.2,168.4 438.8,168.8 439.5,169.3 440.2,169.8 440.9,170.3 441.7,170.8 442.4,171.2 443.1,171.7 443.8,172.2 444.6,172.6 445.3,173.1 446.1,173.5 446.9,173.9 447.7,174.4 448.4,174.8 449.2,175.2 450.1,175.7 450.9,176.1 451.7,176.5 455.5,178.2 459.3,179.8 463.1,181.3 466.9,182.6 470.7,183.9 474.5,185.0 478.3,186.1 482.1,187.0 485.8,187.9 489.6,188.8 493.4,189.5 497.2,190.3 501.0,191.0 504.8,191.6 508.6,192.2 512.4,192.8 516.2,193.3 520.0,193.9 523.8,194.4 527.6,194.8 531.4,195.3 535.2,195.7 539.0,196.1 542.8,196.5 546.6,196.8 550.4,197.2 554.1,197.5 557.9,197.8 561.7,198.1 565.5,198.4 569.3,198.7 573.1,199.0 576.9,199.2 580.7,199.5 584.5,199.7 588.3,200.0 592.1,200.2 595.9,200.4 599.7,200.6 603.5,200.8 607.3,201.0 611.1,201.2 614.9,201.4 618.6,201.6 622.4,201.7 626.2,201.9 630.0,202.1 633.8,202.2 637.6,202.4 641.4,202.5 645.2,202.7 649.0,202.8 652.8,202.9 656.6,203.1 660.4,203.2 664.2,203.3 668.0,203.4 671.8,203.6 675.6,203.7"/>
<polyline stroke="#008000" points="390.2,429.4 390.4,426.9 390.5,424.5 390.6,422.2 390.8,419.8 390.9,417.5 391.1,415.2 391.2,412.9 391.4,410.7 391.5,408.5 391.7,406.3 391.8,404.1 392.0,402.0 392.2,399.9 392.3,397.8 392.5,395.7 392.6,393.6 392.8,391.6 393.0,389.6 393.2,387.6 393.3,385.7 393.5,383.7 393.7,381.8 393.9,379.9 394.0,378.0 394.2,376.2 394.4,374.4 394.6,372.6 394.8,370.8 395.0,369.0 395.2,367.2 395.4,365.5 395.6,363.8 395.8,362.1 396.0,360.4 396.2,358.8 396.4,357.1 396.6,355.5 396.8,353.9 397.0,352.3 397.2,350.8 397.4,349.2 397.7,347.7 397.9,346.2 398.1,344.7 398.3,343.2 398.6,341.8 398.8,340.3 399.0,338.9 399.3,337.5 399.5,336.1 399.8,334.7 400.0,333.3 400.3,332.0 400.5,330.6 400.8,329.3 401.0,328.0 401.3,326.7 401.6,325.4 401.8,324.2 402.1,322.9 402.4,321.7 402.7,320.5 402.9,319.3 403.2,318.1 403.5,316.9 403.8,315.7 404.1,314.6 404.4,313.4 404.7,312.3 405.0,311.2 405.3,310.1 405.6,309.0 405.9,307.9 406.2,306.8 406.6,305.8 406.9,304.7 407.2,303.7 407.5,302.7 407.9,301.7 408.2,300.7 408.6,299.7 408.9,298.7 409.3,297.8 409.6,296.8 410.0,295.9 410.3,294.9 410.7,294.0 411.1,293.1 411.5,292.2 411.8,291.3 412.2,290.4 412.6,289.6 413.0,288.7 413.4,287.9 413.8,287.0 414.2,286.2 414.6,285.4 415.0,284.5 415.5,283.7 415.9,282.9 416.3,282.2 416.7,281.4 417.2,280.6 417.6,279.8 418.1,279.1 418.5,278.3 419.0,277.6 419.5,276.9 419.9,276.2 420.4,275.5 420.9,274.8 421.4,274.1 421.9,273.4 422.4,272.7 422.9,272.0 423.4,271.4 423.9,270.7 424.4,270.0 424.9,269.4 425.5,268.8 426.0,268.1 426.6,267.5 427.1,266.9 427.7,266.3 428.2,265.7 428.8,265.1 429.4,264.5 430.0,263.9 430.5,263.4 431.1,262.8 431.7,262.2 432.4,261.7 433.0,261.1 433.6,260.6 434.2,260.0 434.9,259.5 435.5,259.0 436.2,258.5 436.8,258.0 437.5,257.5 438.2,256.9 438.8,256.5 439.5,256.0 440.2,255.5 440.9,255.0 441.7,254.5 442.4,254.1 443.1,253.6 443.8,253.1 444.6,252.7 445.3,252.2 446.1,251.8 446.9,251.4 447.7,250.9 448.4,250.5 449.2,250.1 450.1,249.6 450.9,249.2 451.7,248.8 455.5,247.1 459.3,245.5 463.1,244.0 466.9,242.7 470.7,241.4 474.5,240.3 478.3,239.2 482.1,238.3 485.8,237.4 489.6,236.5 493.4,235.8 497.2,235.0 501.0,234.3 504.8,233.7 508.6,233.1 512.4,232.5 516.2,232.0 520.0,231.4 523.8,230.9 527.6,230.5 531.4,230.0 535.2,229.6 539.0,229.2 542.8,228.8 546.6,228.5 550.4,228.1 554.1,227.8 557.9,227.5 561.7,227.2 565.5,226.9 569.3,226.6 573.1,226.3 576.9,226.1 580.7,225.8 584.5,225.6 588.3,225.3 592.1,225.1 595.9,224.9 599.7,224.7 603.5,224.5 607.3,224.3 611.1,224.1 614.9,223.9 618.6,223.7 622.4,223.6 626.2,223.4 630.0,223.2 633.8,223.1 637.6,222.9 641.4,222.8 645.2,222.6 649.0,222.5 652.8,222.4 656.6,222.2 660.4,222.1 664.2,222.0 668.0,221.9 671.8,221.7 675.6,221.6"/>
<polyline stroke="#008000" points="393.5,-4.1 393.6,-2.0 393.8,0.1 393.9,2.2 394.1,4.3 394.2,6.3 394.4,8.3 394.6,10.3 394.7,12.3 394.9,14.2 395.1,16.1 395.2,18.1 395.4,20.0 395.6,21.8 395.7,23.7 395.9,25.5 396.1,27.4 396.3,29.2 396.5,30.9 396.6,32.7 396.8,34.5 397.0,36.2 397.2,37.9 397.4,39.6 397.6,41.3 397.8,43.0 398.0,44.6 398.2,46.3 398.4,47.9 398.6,49.5 398.8,51.1 399.0,52.7 399.2,54.2 399.4,55.8 399.6,57.3 399.8,58.8 400.0,60.3 400.3,61.8 400.5,63.3 400.7,64.7 400.9,66.2 401.1,67.6 401.4,69.0 401.6,70.4 401.8,71.8 402.1,73.2 402.3,74.5 402.6,75.9 402.8,77.2 403.0,78.5 403.3,79.8 403.5,81.1 403.8,82.4 404.0,83.7 404.3,84.9 404.6,86.2 404.8,87.4 405.1,88.6 405.4,89.8 405.6,91.0 405.9,92.2 406.2,93.4 406.5,94.5 406.7,95.7 407.0,96.8 407.3,98.0 407.6,99.1 407.9,100.2 408.2,101.3 408.5,102.4 408.8,103.4 409.1,104.5 409.4,105.6 409.7,106.6 410.0,107.6 410.3,108.7 410.6,109.7 411.0,110.7 411.3,111.7 411.6,112.6 412.0,113.6 412.3,114.6 412.6,115.5 413.0,116.5 413.3,117.4 413.7,118.4 414.0,119.3 414.4,120.2 414.7,121.1 415.1,122.0 415.5,122.9 415.8,123.7 416.2,124.6 416.6,125.5 417.0,126.3 417.3,127.1 417.7,128.0 418.1,128.8 418.5,129.6 418.9,130.4 419.3,131.2 419.7,132.0 420.1,132.8 420.6,133.6 421.0,134.4 421.4,135.1 421.8,135.9 422.3,136.6 422.7,137.4 423.1,138.1 423.6,138.8 424.0,139.5 424.5,140.3 424.9,141.0 425.4,141.7 425.9,142.3 426.3,143.0 426.8,143.7 427.3,144.4 427.8,145.0 428.3,145.7 428.8,146.4 429.3,147.0 429.8,147.6 430.3,148.3 430.8,148.9 431.3,149.5 431.9,150.1 432.4,150.7 432.9,151.4 433.5,152.0 434.0,152.5 434.6,153.1 435.1,153.7 435.7,154.3 436.2,154.8 436.8,155.4 437.4,156.0 438.0,156.5 438.6,157.1 439.2,157.6 439.8,158.1 440.4,158.7 441.0,159.2 441.6,159.7 442.2,160.2 442.9,160.8 443.5,161.3 444.2,161.8 444.8,162.3 445.5,162.7 446.1,163.2 446.8,163.7 447.5,164.2 448.2,164.7 448.9,165.1 449.6,165.6 450.3,166.0 451.0,166.5 451.7,167.0 455.5,169.2 459.3,171.2 463.1,173.1 466.9,174.7 470.7,176.3 474.5,177.7 478.3,179.0 482.1,180.3 485.8,181.4 489.6,182.5 493.4,183.5 497.2,184.4 501.0,185.3 504.8,186.1 508.6,186.8 512.4,187.6 516.2,188.3 520.0,188.9 523.8,189.5 527.6,190.1 531.4,190.7 535.2,191.2 539.0,191.7 542.8,192.2 546.6,192.7 550.4,193.1 554.1,193.5 557.9,193.9 561.7,194.3 565.5,194.7 569.3,195.0 573.1,195.4 576.9,195.7 580.7,196.0 584.5,196.3 588.3,196.6 592.1,196.9 595.9,197.2 599.7,197.4 603.5,197.7 607.3,197.9 611.1,198.2 614.9,198.4 618.6,198.6 622.4,198.9 626.2,199.1 630.0,199.3 633.8,199.5 637.6,199.7 641.4,199.9 645.2,200.0 649.0,200.2 652.8,200.4 656.6,200.5 660.4,200.7 664.2,200.9 668.0,201.0 671.8,201.2 675.6,201.3"/>
<polyline stroke="#008000" points="393.5,429.4 393.6,427.3 393.8,425.2 393.9,423.1 394.1,421.0 394.2,419.0 394.4,417.0 394.6,415.0 394.7,413.0 394.9,411.1 395.1,409.2 395.2,407.2 395.4,405.3 395.6,403.5 395.7,401.6 395.9,399.8 396.1,397.9 396.3,396.1 396.5,394.4 396.6,392.6 396.8,390.8 397.0,389.1 397.2,387.4 397.4,385.7 397.6,384.0 397.8,382.3 398.0,380.7 398.2,379.0 398.4,377.4 398.6,375.8 398.8,374.2 399.0,372.6 399.2,371.1 399.4,369.5 399.6,368.0 399.8,366.5 400.0,365.0 400.3,363.5 400.5,362.0 400.7,360.6 400.9,359.1 401.1,357.7 401.4,356.3 401.6,354.9 401.8,353.5 402.1,352.1 402.3,350.8 402.6,349.4 402.8,348.1 403.0,346.8 403.3,345.5 403.5,344.2 403.8,342.9 404.0,341.6 404.3,340.4 404.6,339.1 404.8,337.9 405.1,336.7 405.4,335.5 405.6,334.3 405.9,333.1 406.2,331.9 406.5,330.8 406.7,329.6 407.0,328.5 407.3,327.3 407.6,326.2 407.9,325.1 408.2,324.0 408.5,322.9 408.8,321.9 409.1,320.8 409.4,319.7 409.7,318.7 410.0,317.7 410.3,316.6 410.6,315.6 411.0,314.6 411.3,313.6 411.6,312.7 412.0,311.7 412.3,310.7 412.6,309.8 413.0,308.8 413.3,307.9 413.7,306.9 414.0,306.0 414.4,305.1 414.7,304.2 415.1,303.3 415.5,302.4 415.8,301.6 416.2,300.7 416.6,299.8 417.0,299.0 417.3,298.2 417.7,297.3 418.1,296.5 418.5,295.7 418.9,294.9 419.3,294.1 419.7,293.3 420.1,292.5 420.6,291.7 421.0,290.9 421.4,290.2 421.8,289.4 422.3,288.7 422.7,287.9 423.1,287.2 423.6,286.5 424.0,285.8 424.5,285.0 424.9,284.3 425.4,283.6 425.9,283.0 426.3,282.3 426.8,281.6 427.3,280.9 427.8,280.3 428.3,279.6 428.8,278.9 429.3,278.3 429.8,277.7 430.3,277.0 430.8,276.4 431.3,275.8 431.9,275.2 432.4,274.6 432.9,273.9 433.5,273.3 434.0,272.8 434.6,272.2 435.1,271.6 435.7,271.0 436.2,270.5 436.8,269.9 437.4,269.3 438.0,268.8 438.6,268.2 439.2,267.7 439.8,267.2 440.4,266.6 441.0,266.1 441.6,265.6 442.2,265.1 442.9,264.5 443.5,264.0 444.2,263.5 444.8,263.0 445.5,262.6 446.1,262.1 446.8,261.6 447.5,261.1 448.2,260.6 448.9,260.2 449.6,259.7 450.3,259.3 451.0,258.8 451.7,258.3 455.5,256.1 459.3,254.1 463.1,252.2 466.9,250.6 470.7,249.0 474.5,247.6 478.3,246.3 482.1,245.0 485.8,243.9 489.6,242.8 493.4,241.8 497.2,240.9 501.0,240.0 504.8,239.2 508.6,238.5 512.4,237.7 516.2,237.0 520.0,236.4 523.8,235.8 527.6,235.2 531.4,234.6 535.2,234.1 539.0,233.6 542.8,233.1 546.6,232.6 550.4,232.2 554.1,231.8 557.9,231.4 561.7,231.0 565.5,230.6 569.3,230.3 573.1,229.9 576.9,229.6 580.7,229.3 584.5,229.0 588.3,228.7 592.1,228.4 595.9,228.1 599.7,227.9 603.5,227.6 607.3,227.4 611.1,227.1 614.9,226.9 618.6,226.7 622.4,226.4 626.2,226.2 630.0,226.0 633.8,225.8 637.6,225.6 641.4,225.4 645.2,225.3 649.0,225.1 652.8,224.9 656.6,224.8 660.4,224.6 664.2,224.4 668.0,224.3 671.8,224.1 675.6,224.0"/>
<polyline stroke="#0000ff" points="400.7,-4.1 400.9,-2.5 401.1,-0.9 401.2,0.7 401.4,2.2 401.6,3.8 401.7,5.3 401.9,6.9 402.1,8.4 402.3,9.9 402.5,11.4 402.6,12.8 402.8,14.3 403.0,15.8 403.2,17.2 403.4,18.7 403.6,20.1 403.8,21.5 404.0,22.9 404.2,24.3 404.3,25.7 404.5,27.1 404.7,28.4 404.9,29.8 405.1,31.1 405.3,32.5 405.5,33.8 405.7,35.1 406.0,36.4 406.2,37.7 406.4,39.0 406.6,40.3 406.8,41.5 407.0,42.8 407.2,44.0 407.4,45.3 407.7,46.5 407.9,47.7 408.1,49.0 408.3,50.2 408.6,51.4 408.8,52.5 409.0,53.7 409.2,54.9 409.5,56.0 409.7,57.2 409.9,58.3 410.2,59.5 410.4,60.6 410.7,61.7 410.9,62.8 411.1,63.9 411.4,65.0 411.6,66.1 411.9,67.2 412.1,68.3 412.4,69.3 412.7,70.4 412.9,71.4 413.2,72.5 413.4,73.5 413.7,74.5 414.0,75.5 414.2,76.5 414.5,77.5 414.8,78.5 415.0,79.5 415.3,80.5 415.6,81.5 415.9,82.4 416.2,83.4 416.4,84.4 416.7,85.3 417.0,86.2 417.3,87.2 417.6,88.1 417.9,89.0 418.2,89.9 418.5,90.8 418.8,91.7 419.1,92.6 419.4,93.5 419.7,94.4 420.0,95.2 420.3,96.1 420.6,97.0 421.0,97.8 421.3,98.6 421.6,99.5 421.9,100.3 422.2,101.1 422.6,102.0 422.9,102.8 423.2,103.6 423.6,104.4 423.9,105.2 424.2,106.0 424.6,106.8 424.9,107.5 425.3,108.3 425.6,109.1 426.0,109.8 426.3,110.6 426.7,111.4 427.1,112.1 427.4,112.8 427.8,113.6 428.2,114.3 428.5,115.0 428.9,115.7 429.3,116.5 429.7,117.2 430.1,117.9 430.4,118.6 430.8,119.3 431.2,119.9 431.6,120.6 432.0,121.3 432.4,122.0 432.8,122.6 433.2,123.3 433.6,124.0 434.1,124.6 434.5,125.3 434.9,125.9 435.3,126.5 435.7,127.2 436.2,127.8 436.6,128.4 437.0,129.0 437.5,129.7 437.9,130.3 438.4,130.9 438.8,131.5 439.3,132.1 439.7,132.7 440.2,133.3 440.6,133.8 441.1,134.4 441.6,135.0 442.0,135.6 442.5,136.1 443.0,136.7 443.5,137.3 444.0,137.8 444.5,138.4 444.9,138.9 445.4,139.4 445.9,140.0 446.4,140.5 447.0,141.1 447.5,141.6 448.0,142.1 448.5,142.6 449.0,143.1 449.6,143.6 450.1,144.2 450.6,144.7 451.2,145.2 451.7,145.7 455.5,148.9 459.3,151.9 463.1,154.6 466.9,157.1 470.7,159.4 474.5,161.4 478.3,163.4 482.1,165.2 485.8,166.8 489.6,168.4 493.4,169.9 497.2,171.2 501.0,172.5 504.8,173.7 508.6,174.8 512.4,175.9 516.2,176.9 520.0,177.9 523.8,178.8 527.6,179.6 531.4,180.4 535.2,181.2 539.0,182.0 542.8,182.7 546.6,183.3 550.4,184.0 554.1,184.6 557.9,185.2 561.7,185.8 565.5,186.3 569.3,186.8 573.1,187.3 576.9,187.8 580.7,188.3 584.5,188.7 588.3,189.2 592.1,189.6 595.9,190.0 599.7,190.4 603.5,190.7 607.3,191.1 611.1,191.4 614.9,191.8 618.6,192.1 622.4,192.4 626.2,192.7 630.0,193.0 633.8,193.3 637.6,193.6 641.4,193.9 645.2,194.2 649.0,194.4 652.8,194.7 656.6,194.9 660.4,195.1 664.2,195.4 668.0,195.6 671.8,195.8 675.6,196.0"/>
<polyline stroke="#0000ff" points="400.7,429.4 400.9,427.8 401.1,426.2 401.2,424.6 401.4,423.1 401.6,421.5 401.7,420.0 401.9,418.4 402.1,416.9 402.3,415.4 402.5,413.9 402.6,412.5 402.8,411.0 403.0,409.5 403.2,408.1 403.4,406.6 403.6,405.2 403.8,403.8 404.0,402.4 404.2,401.0 404.3,399.6 404.5,398.2 404.7,396.9 404.9,395.5 405.1,394.2 405.3,392.8 405.5,391.5 405.7,390.2 406.0,388.9 406.2,387.6 406.4,386.3 406.6,385.0 406.8,383.8 407.0,382.5 407.2,381.3 407.4,380.0 407.7,378.8 407.9,377.6 408.1,376.3 408.3,375.1 408.6,373.9 408.8,372.8 409.0,371.6 409.2,370.4 409.5,369.3 409.7,368.1 409.9,367.0 410.2,365.8 410.4,364.7 410.7,363.6 410.9,362.5 411.1,361.4 411.4,360.3 411.6,359.2 411.9,358.1 412.1,357.0 412.4,356.0 412.7,354.9 412.9,353.9 413.2,352.8 413.4,351.8 413.7,350.8 414.0,349.8 414.2,348.8 414.5,347.8 414.8,346.8 415.0,345.8 415.3,344.8 415.6,343.8 415.9,342.9 416.2,341.9 416.4,340.9 416.7,340.0 417.0,339.1 417.3,338.1 417.6,337.2 417.9,336.3 418.2,335.4 418.5,334.5 418.8,333.6 419.1,332.7 419.4,331.8 419.7,330.9 420.0,330.1 420.3,329.2 420.6,328.3 421.0,327.5 421.3,326.7 421.6,325.8 421.9,325.0 422.2,324.2 422.6,323.3 422.9,322.5 423.2,321.7 423.6,320.9 423.9,320.1 424.2,319.3 424.6,318.5 424.9,317.8 425.3,317.0 425.6,316.2 426.0,315.5 426.3,314.7 426.7,313.9 427.1,313.2 427.4,312.5 427.8,311.7 428.2,311.0 428.5,310.3 428.9,309.6 429.3,308.8 429.7,308.1 430.1,307.4 430.4,306.7 430.8,306.0 431.2,305.4 431.6,304.7 432.0,304.0 432.4,303.3 432.8,302.7 433.2,302.0 433.6,301.3 434.1,300.7 434.5,300.0 434.9,299.4 435.3,298.8 435.7,298.1 436.2,297.5 436.6,296.9 437.0,296.3 437.5,295.6 437.9,295.0 438.4,294.4 438.8,293.8 439.3,293.2 439.7,292.6 440.2,292.0 440.6,291.5 441.1,290.9 441.6,290.3 442.0,289.7 442.5,289.2 443.0,288.6 443.5,288.0 444.0,287.5 444.5,286.9 444.9,286.4 445.4,285.9 445.9,285.3 446.4,284.8 447.0,284.2 447.5,283.7 448.0,283.2 448.5,282.7 449.0,282.2 449.6,281.7 450.1,281.1 450.6,280.6 451.2,280.1 451.7,279.6 455.5,276.4 459.3,273.4 463.1,270.7 466.9,268.2 470.7,265.9 474.5,263.9 478.3,261.9 482.1,260.1 485.8,258.5 489.6,256.9 493.4,255.4 497.2,254.1 501.0,252.8 504.8,251.6 508.6,250.5 512.4,249.4 516.2,248.4 520.0,247.4 523.8,246.5 527.6,245.7 531.4,244.9 535.2,244.1 539.0,243.3 542.8,242.6 546.6,242.0 550.4,241.3 554.1,240.7 557.9,240.1 561.7,239.5 565.5,239.0 569.3,238.5 573.1,238.0 576.9,237.5 580.7,237.0 584.5,236.6 588.3,236.1 592.1,235.7 595.9,235.3 599.7,234.9 603.5,234.6 607.3,234.2 611.1,233.9 614.9,233.5 618.6,233.2 622.4,232.9 626.2,232.6 630.0,232.3 633.8,232.0 637.6,231.7 641.4,231.4 645.2,231.1 649.0,230.9 652.8,230.6 656.6,230.4 660.4,230.2 664.2,229.9 668.0,229.7 671.8,229.5 675.6,229.3"/>
<polyline stroke="#0000ff" points="400.9,-4.1 401.0,-2.5 401.2,-0.9 401.4,0.7 401.5,2.2 401.7,3.7 401.9,5.3 402.1,6.8 402.2,8.3 402.4,9.8 402.6,11.3 402.8,12.8 403.0,14.2 403.2,15.7 403.3,17.1 403.5,18.5 403.7,20.0 403.9,21.4 404.1,22.8 404.3,24.2 404.5,25.5 404.7,26.9 404.9,28.3 405.1,29.6 405.3,31.0 405.5,32.3 405.7,33.6 405.9,34.9 406.1,36.2 406.3,37.5 406.5,38.8 406.7,40.1 406.9,41.3 407.2,42.6 407.4,43.8 407.6,45.1 407.8,46.3 408.0,47.5 408.3,48.7 408.5,49.9 408.7,51.1 408.9,52.3 409.2,53.4 409.4,54.6 409.6,55.8 409.9,56.9 410.1,58.1 410.3,59.2 410.6,60.3 410.8,61.4 411.0,62.5 411.3,63.6 411.5,64.7 411.8,65.8 412.0,66.9 412.3,67.9 412.5,69.0 412.8,70.1 413.1,71.1 413.3,72.1 413.6,73.2 413.8,74.2 414.1,75.2 414.4,76.2 414.6,77.2 414.9,78.2 415.2,79.2 415.5,80.2 415.7,81.1 416.0,82.1 416.3,83.0 416.6,84.0 416.9,84.9 417.1,85.9 417.4,86.8 417.7,87.7 418.0,88.6 418.3,89.5 418.6,90.4 418.9,91.3 419.2,92.2 419.5,93.1 419.8,94.0 420.1,94.8 420.4,95.7 420.8,96.6 421.1,97.4 421.4,98.2 421.7,99.1 422.0,99.9 422.4,100.7 422.7,101.6 423.0,102.4 423.4,103.2 423.7,104.0 424.0,104.8 424.4,105.6 424.7,106.3 425.1,107.1 425.4,107.9 425.8,108.7 426.1,109.4 426.5,110.2 426.8,110.9 427.2,111.7 427.5,112.4 427.9,113.1 428.3,113.9 428.6,114.6 429.0,115.3 429.4,116.0 429.8,116.7 430.2,117.4 430.5,118.1 430.9,118.8 431.3,119.5 431.7,120.2 432.1,120.9 432.5,121.5 432.9,122.2 433.3,122.9 433.7,123.5 434.1,124.2 434.6,124.8 435.0,125.5 435.4,126.1 435.8,126.7 436.2,127.4 436.7,128.0 437.1,128.6 437.5,129.2 438.0,129.8 438.4,130.4 438.9,131.0 439.3,131.6 439.8,132.2 440.2,132.8 440.7,133.4 441.2,134.0 441.6,134.6 442.1,135.1 442.6,135.7 443.0,136.3 443.5,136.8 444.0,137.4 444.5,137.9 445.0,138.5 445.5,139.0 446.0,139.6 446.5,140.1 447.0,140.6 447.5,141.1 448.0,141.7 448.5,142.2 449.0,142.7 449.6,143.2 450.1,143.7 450.6,144.2 451.2,144.7 451.7,145.2 455.5,148.5 459.3,151.5 463.1,154.2 466.9,156.7 470.7,159.0 474.5,161.1 478.3,163.1 482.1,164.9 485.8,166.6 489.6,168.1 493.4,169.6 497.2,171.0 501.0,172.2 504.8,173.4 508.6,174.6 512.4,175.7 516.2,176.7 520.0,177.6 523.8,178.5 527.6,179.4 531.4,180.2 535.2,181.0 539.0,181.8 542.8,182.5 546.6,183.1 550.4,183.8 554.1,184.4 557.9,185.0 561.7,185.6 565.5,186.1 569.3,186.7 573.1,187.2 576.9,187.6 580.7,188.1 584.5,188.6 588.3,189.0 592.1,189.4 595.9,189.8 599.7,190.2 603.5,190.6 607.3,191.0 611.1,191.3 614.9,191.7 618.6,192.0 622.4,192.3 626.2,192.6 630.0,192.9 633.8,193.2 637.6,193.5 641.4,193.8 645.2,194.0 649.0,194.3 652.8,194.5 656.6,194.8 660.4,195.0 664.2,195.3 668.0,195.5 671.8,195.7 675.6,195.9"/>
<polyline stroke="#0000ff" points="400.9,429.4 401.0,427.8 401.2,426.2 401.4,424.6 401.5,423.1 401.7,421.6 401.9,420.0 402.1,418.5 402.2,417.0 402.4,415.5 402.6,414.0 402.8,412.5 403.0,411.1 403.2,409.6 403.3,408.2 403.5,406.8 403.7,405.3 403.9,403.9 404.1,402.5 404.3,401.1 404.5,399.8 404.7,398.4 404.9,397.0 405.1,395.7 405.3,394.3 405.5,393.0 405.7,391.7 405.9,390.4 406.1,389.1 406.3,387.8 406.5,386.5 406.7,385.2 406.9,384.0 407.2,382.7 407.4,381.5 407.6,380.2 407.8,379.0 408.0,377.8 408.3,376.6 408.5,375.4 408.7,374.2 408.9,373.0 409.2,371.9 409.4,370.7 409.6,369.5 409.9,368.4 410.1,367.2 410.3,366.1 410.6,365.0 410.8,363.9 411.0,362.8 411.3,361.7 411.5,360.6 411.8,359.5 412.0,358.4 412.3,357.4 412.5,356.3 412.8,355.2 413.1,354.2 413.3,353.2 413.6,352.1 413.8,351.1 414.1,350.1 414.4,349.1 414.6,348.1 414.9,347.1 415.2,346.1 415.5,345.1 415.7,344.2 416.0,343.2 416.3,342.3 416.6,341.3 416.9,340.4 417.1,339.4 417.4,338.5 417.7,337.6 418.0,336.7 418.3,335.8 418.6,334.9 418.9,334.0 419.2,333.1 419.5,332.2 419.8,331.3 420.1,330.5 420.4,329.6 420.8,328.7 421.1,327.9 421.4,327.1 421.7,326.2 422.0,325.4 422.4,324.6 422.7,323.7 423.0,322.9 423.4,322.1 423.7,321.3 424.0,320.5 424.4,319.7 424.7,319.0 425.1,318.2 425.4,317.4 425.8,316.6 426.1,315.9 426.5,315.1 426.8,314.4 427.2,313.6 427.5,312.9 427.9,312.2 428.3,311.4 428.6,310.7 429.0,310.0 429.4,309.3 429.8,308.6 430.2,307.9 430.5,307.2 430.9,306.5 431.3,305.8 431.7,305.1 432.1,304.4 432.5,303.8 432.9,303.1 433.3,302.4 433.7,301.8 434.1,301.1 434.6,300.5 435.0,299.8 435.4,299.2 435.8,298.6 436.2,297.9 436.7,297.3 437.1,296.7 437.5,296.1 438.0,295.5 438.4,294.9 438.9,294.3 439.3,293.7 439.8,293.1 440.2,292.5 440.7,291.9 441.2,291.3 441.6,290.7 442.1,290.2 442.6,289.6 443.0,289.0 443.5,288.5 444.0,287.9 444.5,287.4 445.0,286.8 445.5,286.3 446.0,285.7 446.5,285.2 447.0,284.7 447.5,284.2 448.0,283.6 448.5,283.1 449.0,282.6 449.6,282.1 450.1,281.6 450.6,281.1 451.2,280.6 451.7,280.1 455.5,276.8 459.3,273.8 463.1,271.1 466.9,268.6 470.7,266.3 474.5,264.2 478.3,262.2 482.1,260.4 485.8,258.7 489.6,257.2 493.4,255.7 497.2,254.3 501.0,253.1 504.8,251.9 508.6,250.7 512.4,249.6 516.2,248.6 520.0,247.7 523.8,246.8 527.6,245.9 531.4,245.1 535.2,244.3 539.0,243.5 542.8,242.8 546.6,242.2 550.4,241.5 554.1,240.9 557.9,240.3 561.7,239.7 565.5,239.2 569.3,238.6 573.1,238.1 576.9,237.7 580.7,237.2 584.5,236.7 588.3,236.3 592.1,235.9 595.9,235.5 599.7,235.1 603.5,234.7 607.3,234.3 611.1,234.0 614.9,233.6 618.6,233.3 622.4,233.0 626.2,232.7 630.0,232.4 633.8,232.1 637.6,231.8 641.4,231.5 645.2,231.3 649.0,231.0 652.8,230.8 656.6,230.5 660.4,230.3 664.2,230.0 668.0,229.8 671.8,229.6 675.6,229.4"/>
<polyline stroke="#ff0000" points="408.1,-4.1 408.3,-2.9 408.5,-1.6 408.7,-0.4 408.8,0.7 409.0,1.9 409.2,3.1 409.4,4.3 409.5,5.4 409.7,6.6 409.9,7.8 410.1,8.9 410.3,10.0 410.4,11.2 410.6,12.3 410.8,13.4 411.0,14.5 411.2,15.6 411.4,16.7 411.6,17.8 411.7,18.9 411.9,20.0 412.1,21.1 412.3,22.2 412.5,23.2 412.7,24.3 412.9,25.3 413.1,26.4 413.3,27.4 413.5,28.5 413.7,29.5 413.9,30.5 414.1,31.5 414.3,32.6 414.5,33.6 414.7,34.6 414.9,35.6 415.1,36.6 415.3,37.5 415.5,38.5 415.8,39.5 416.0,40.5 416.2,41.4 416.4,42.4 416.6,43.3 416.8,44.3 417.1,45.2 417.3,46.2 417.5,47.1 417.7,48.0 417.9,48.9 418.2,49.9 418.4,50.8 418.6,51.7 418.9,52.6 419.1,53.5 419.3,54.4 419.5,55.2 419.8,56.1 420.0,57.0 420.3,57.9 420.5,58.7 420.7,59.6 421.0,60.5 421.2,61.3 421.5,62.1 421.7,63.0 421.9,63.8 422.2,64.7 422.4,65.5 422.7,66.3 422.9,67.1 423.2,67.9 423.5,68.8 423.7,69.6 424.0,70.4 424.2,71.2 424.5,71.9 424.8,72.7 425.0,73.5 425.3,74.3 425.5,75.1 425.8,75.8 426.1,76.6 426.4,77.4 426.6,78.1 426.9,78.9 427.2,79.6 427.5,80.4 427.7,81.1 428.0,81.8 428.3,82.6 428.6,83.3 428.9,84.0 429.2,84.7 429.4,85.5 429.7,86.2 430.0,86.9 430.3,87.6 430.6,88.3 430.9,89.0 431.2,89.7 431.5,90.4 431.8,91.0 432.1,91.7 432.4,92.4 432.7,93.1 433.0,93.7 433.3,94.4 433.7,95.1 434.0,95.7 434.3,96.4 434.6,97.0 434.9,97.7 435.2,98.3 435.6,99.0 435.9,99.6 436.2,100.2 436.5,100.9 436.9,101.5 437.2,102.1 437.5,102.7 437.9,103.3 438.2,103.9 438.5,104.6 438.9,105.2 439.2,105.8 439.6,106.4 439.9,107.0 440.3,107.5 440.6,108.1 441.0,108.7 441.3,109.3 441.7,109.9 442.0,110.5 442.4,111.0 442.8,111.6 443.1,112.2 443.5,112.7 443.9,113.3 444.2,113.8 444.6,114.4 445.0,114.9 445.4,115.5 445.7,116.0 446.1,116.6 446.5,117.1 446.9,117.6 447.3,118.2 447.7,118.7 448.1,119.2 448.5,119.7 448.9,120.3 449.3,120.8 449.7,121.3 450.1,121.8 450.5,122.3 450.9,122.8 451.3,123.3 451.7,123.8 455.5,128.2 459.3,132.1 463.1,135.7 466.9,139.0 470.7,142.0 474.5,144.8 478.3,147.3 482.1,149.7 485.8,151.9 489.6,154.0 493.4,155.9 497.2,157.7 501.0,159.4 504.8,161.0 508.6,162.5 512.4,163.9 516.2,165.3 520.0,166.5 523.8,167.7 527.6,168.9 531.4,169.9 535.2,171.0 539.0,172.0 542.8,172.9 546.6,173.8 550.4,174.6 554.1,175.5 557.9,176.2 561.7,177.0 565.5,177.7 569.3,178.4 573.1,179.1 576.9,179.7 580.7,180.3 584.5,180.9 588.3,181.5 592.1,182.0 595.9,182.6 599.7,183.1 603.5,183.6 607.3,184.1 611.1,184.5 614.9,185.0 618.6,185.4 622.4,185.8 626.2,186.3 630.0,186.6 633.8,187.0 637.6,187.4 641.4,187.8 645.2,188.1 649.0,188.5 652.8,188.8 656.6,189.1 660.4,189.4 664.2,189.8 668.0,190.1 671.8,190.3 675.6,190.6"/>
<polyline stroke="#ff0000" points="408.1,429.4 408.3,428.2 408.5,426.9 408.7,425.7 408.8,424.6 409.0,423.4 409.2,422.2 409.4,421.0 409.5,419.9 409.7,418.7 409.9,417.5 410.1,416.4 410.3,415.3 410.4,414.1 410.6,413.0 410.8,411.9 411.0,410.8 411.2,409.7 411.4,408.6 411.6,407.5 411.7,406.4 411.9,405.3 412.1,404.2 412.3,403.1 412.5,402.1 412.7,401.0 412.9,400.0 413.1,398.9 413.3,397.9 413.5,396.8 413.7,395.8 413.9,394.8 414.1,393.8 414.3,392.7 414.5,391.7 414.7,390.7 414.9,389.7 415.1,388.7 415.3,387.8 415.5,386.8 415.8,385.8 416.0,384.8 416.2,383.9 416.4,382.9 416.6,382.0 416.8,381.0 417.1,380.1 417.3,379.1 417.5,378.2 417.7,377.3 417.9,376.4 418.2,375.4 418.4,374.5 418.6,373.6 418.9,372.7 419.1,371.8 419.3,370.9 419.5,370.1 419.8,369.2 420.0,368.3 420.3,367.4 420.5,366.6 420.7,365.7 421.0,364.8 421.2,364.0 421.5,363.2 421.7,362.3 421.9,361.5 422.2,360.6 422.4,359.8 422.7,359.0 422.9,358.2 423.2,357.4 423.5,356.5 423.7,355.7 424.0,354.9 424.2,354.1 424.5,353.4 424.8,352.6 425.0,351.8 425.3,351.0 425.5,350.2 425.8,349.5 426.1,348.7 426.4,347.9 426.6,347.2 426.9,346.4 427.2,345.7 427.5,344.9 427.7,344.2 428.0,343.5 428.3,342.7 428.6,342.0 428.9,341.3 429.2,340.6 429.4,339.8 429.7,339.1 430.0,338.4 430.3,337.7 430.6,337.0 430.9,336.3 431.2,335.6 431.5,334.9 431.8,334.3 432.1,333.6 432.4,332.9 432.7,332.2 433.0,331.6 433.3,330.9 433.7,330.2 434.0,329.6 434.3,328.9 434.6,328.3 434.9,327.6 435.2,327.0 435.6,326.3 435.9,325.7 436.2,325.1 436.5,324.4 436.9,323.8 437.2,323.2 437.5,322.6 437.9,322.0 438.2,321.4 438.5,320.7 438.9,320.1 439.2,319.5 439.6,318.9 439.9,318.3 440.3,317.8 440.6,317.2 441.0,316.6 441.3,316.0 441.7,315.4 442.0,314.8 442.4,314.3 442.8,313.7 443.1,313.1 443.5,312.6 443.9,312.0 444.2,311.5 444.6,310.9 445.0,310.4 445.4,309.8 445.7,309.3 446.1,308.7 446.5,308.2 446.9,307.7 447.3,307.1 447.7,306.6 448.1,306.1 448.5,305.6 448.9,305.0 449.3,304.5 449.7,304.0 450.1,303.5 450.5,303.0 450.9,302.5 451.3,302.0 451.7,301.5 455.5,297.1 459.3,293.2 463.1,289.6 466.9,286.3 470.7,283.3 474.5,280.5 478.3,278.0 482.1,275.6 485.8,273.4 489.6,271.3 493.4,269.4 497.2,267.6 501.0,265.9 504.8,264.3 508.6,262.8 512.4,261.4 516.2,260.0 520.0,258.8 523.8,257.6 527.6,256.4 531.4,255.4 535.2,254.3 539.0,253.3 542.8,252.4 546.6,251.5 550.4,250.7 554.1,249.8 557.9,249.1 561.7,248.3 565.5,247.6 569.3,246.9 573.1,246.2 576.9,245.6 580.7,245.0 584.5,244.4 588.3,243.8 592.1,243.3 595.9,242.7 599.7,242.2 603.5,241.7 607.3,241.2 611.1,240.8 614.9,240.3 618.6,239.9 622.4,239.5 626.2,239.0 630.0,238.7 633.8,238.3 637.6,237.9 641.4,237.5 645.2,237.2 649.0,236.8 652.8,236.5 656.6,236.2 660.4,235.9 664.2,235.5 668.0,235.2 671.8,235.0 675.6,234.7"/>
<polyline stroke="#ff0000" points="415.1,-4.1 415.2,-3.1 415.4,-2.2 415.6,-1.3 415.7,-0.4 415.9,0.6 416.0,1.5 416.2,2.4 416.4,3.3 416.5,4.2 416.7,5.1 416.9,6.0 417.0,6.9 417.2,7.8 417.4,8.6 417.6,9.5 417.7,10.4 417.9,11.3 418.1,12.1 418.2,13.0 418.4,13.8 418.6,14.7 418.8,15.6 418.9,16.4 419.1,17.2 419.3,18.1 419.5,18.9 419.7,19.8 419.8,20.6 420.0,21.4 420.2,22.2 420.4,23.1 420.6,23.9 420.8,24.7 420.9,25.5 421.1,26.3 421.3,27.1 421.5,27.9 421.7,28.7 421.9,29.5 422.1,30.3 422.3,31.1 422.5,31.8 422.6,32.6 422.8,33.4 423.0,34.2 423.2,34.9 423.4,35.7 423.6,36.5 423.8,37.2 424.0,38.0 424.2,38.7 424.4,39.5 424.6,40.2 424.8,41.0 425.0,41.7 425.2,42.4 425.4,43.2 425.6,43.9 425.8,44.6 426.1,45.3 426.3,46.1 426.5,46.8 426.7,47.5 426.9,48.2 427.1,48.9 427.3,49.6 427.5,50.3 427.7,51.0 428.0,51.7 428.2,52.4 428.4,53.1 428.6,53.8 428.8,54.5 429.0,55.2 429.3,55.8 429.5,56.5 429.7,57.2 429.9,57.8 430.2,58.5 430.4,59.2 430.6,59.8 430.8,60.5 431.1,61.1 431.3,61.8 431.5,62.4 431.8,63.1 432.0,63.7 432.2,64.4 432.5,65.0 432.7,65.7 432.9,66.3 433.2,66.9 433.4,67.5 433.7,68.2 433.9,68.8 434.1,69.4 434.4,70.0 434.6,70.6 434.9,71.2 435.1,71.9 435.4,72.5 435.6,73.1 435.9,73.7 436.1,74.3 436.4,74.9 436.6,75.5 436.9,76.0 437.1,76.6 437.4,77.2 437.6,77.8 437.9,78.4 438.2,79.0 438.4,79.5 438.7,80.1 438.9,80.7 439.2,81.2 439.5,81.8 439.7,82.4 440.0,82.9 440.3,83.5 440.5,84.0 440.8,84.6 441.1,85.2 441.4,85.7 441.6,86.2 441.9,86.8 442.2,87.3 442.5,87.9 442.7,88.4 443.0,88.9 443.3,89.5 443.6,90.0 443.9,90.5 444.2,91.1 444.4,91.6 444.7,92.1 445.0,92.6 445.3,93.1 445.6,93.7 445.9,94.2 446.2,94.7 446.5,95.2 446.8,95.7 447.1,96.2 447.4,96.7 447.7,97.2 448.0,97.7 448.3,98.2 448.6,98.7 448.9,99.2 449.2,99.7 449.5,100.1 449.8,100.6 450.1,101.1 450.4,101.6 450.8,102.1 451.1,102.5 451.4,103.0 451.7,103.5 455.5,108.8 459.3,113.7 463.1,118.1 466.9,122.1 470.7,125.8 474.5,129.2 478.3,132.4 482.1,135.3 485.8,138.0 489.6,140.6 493.4,142.9 497.2,145.1 501.0,147.2 504.8,149.2 508.6,151.0 512.4,152.8 516.2,154.4 520.0,156.0 523.8,157.4 527.6,158.8 531.4,160.2 535.2,161.4 539.0,162.6 542.8,163.8 546.6,164.9 550.4,165.9 554.1,166.9 557.9,167.9 561.7,168.8 565.5,169.7 569.3,170.6 573.1,171.4 576.9,172.2 580.7,172.9 584.5,173.7 588.3,174.4 592.1,175.0 595.9,175.7 599.7,176.3 603.5,176.9 607.3,177.5 611.1,178.1 614.9,178.7 618.6,179.2 622.4,179.7 626.2,180.2 630.0,180.7 633.8,181.2 637.6,181.6 641.4,182.1 645.2,182.5 649.0,182.9 652.8,183.3 656.6,183.7 660.4,184.1 664.2,184.5 668.0,184.9 671.8,185.2 675.6,185.6"/>
<polyline stroke="#ff0000" points="415.1,429.4 415.2,428.4 415.4,427.5 415.6,426.6 415.7,425.7 415.9,424.7 416.0,423.8 416.2,422.9 416.4,422.0 416.5,421.1 416.7,420.2 416.9,419.3 417.0,418.4 417.2,417.5 417.4,416.7 417.6,415.8 417.7,414.9 417.9,414.0 418.1,413.2 418.2,412.3 418.4,411.5 418.6,410.6 418.8,409.7 418.9,408.9 419.1,408.1 419.3,407.2 419.5,406.4 419.7,405.5 419.8,404.7 420.0,403.9 420.2,403.1 420.4,402.2 420.6,401.4 420.8,400.6 420.9,399.8 421.1,399.0 421.3,398.2 421.5,397.4 421.7,396.6 421.9,395.8 422.1,395.0 422.3,394.2 422.5,393.5 422.6,392.7 422.8,391.9 423.0,391.1 423.2,390.4 423.4,389.6 423.6,388.8 423.8,388.1 424.0,387.3 424.2,386.6 424.4,385.8 424.6,385.1 424.8,384.3 425.0,383.6 425.2,382.9 425.4,382.1 425.6,381.4 425.8,380.7 426.1,380.0 426.3,379.2 426.5,378.5 426.7,377.8 426.9,377.1 427.1,376.4 427.3,375.7 427.5,375.0 427.7,374.3 428.0,373.6 428.2,372.9 428.4,372.2 428.6,371.5 428.8,370.8 429.0,370.1 429.3,369.5 429.5,368.8 429.7,368.1 429.9,367.5 430.2,366.8 430.4,366.1 430.6,365.5 430.8,364.8 431.1,364.2 431.3,363.5 431.5,362.9 431.8,362.2 432.0,361.6 432.2,360.9 432.5,360.3 432.7,359.6 432.9,359.0 433.2,358.4 433.4,357.8 433.7,357.1 433.9,356.5 434.1,355.9 434.4,355.3 434.6,354.7 434.9,354.1 435.1,353.4 435.4,352.8 435.6,352.2 435.9,351.6 436.1,351.0 436.4,350.4 436.6,349.8 436.9,349.3 437.1,348.7 437.4,348.1 437.6,347.5 437.9,346.9 438.2,346.3 438.4,345.8 438.7,345.2 438.9,344.6 439.2,344.1 439.5,343.5 439.7,342.9 440.0,342.4 440.3,341.8 440.5,341.3 440.8,340.7 441.1,340.1 441.4,339.6 441.6,339.1 441.9,338.5 442.2,338.0 442.5,337.4 442.7,336.9 443.0,336.4 443.3,335.8 443.6,335.3 443.9,334.8 444.2,334.2 444.4,333.7 444.7,333.2 445.0,332.7 445.3,332.2 445.6,331.6 445.9,331.1 446.2,330.6 446.5,330.1 446.8,329.6 447.1,329.1 447.4,328.6 447.7,328.1 448.0,327.6 448.3,327.1 448.6,326.6 448.9,326.1 449.2,325.6 449.5,325.2 449.8,324.7 450.1,324.2 450.4,323.7 450.8,323.2 451.1,322.8 451.4,322.3 451.7,321.8 455.5,316.5 459.3,311.6 463.1,307.2 466.9,303.2 470.7,299.5 474.5,296.1 478.3,292.9 482.1,290.0 485.8,287.3 489.6,284.7 493.4,282.4 497.2,280.2 501.0,278.1 504.8,276.1 508.6,274.3 512.4,272.5 516.2,270.9 520.0,269.3 523.8,267.9 527.6,266.5 531.4,265.1 535.2,263.9 539.0,262.7 542.8,261.5 546.6,260.4 550.4,259.4 554.1,258.4 557.9,257.4 561.7,256.5 565.5,255.6 569.3,254.7 573.1,253.9 576.9,253.1 580.7,252.4 584.5,251.6 588.3,250.9 592.1,250.3 595.9,249.6 599.7,249.0 603.5,248.4 607.3,247.8 611.1,247.2 614.9,246.6 618.6,246.1 622.4,245.6 626.2,245.1 630.0,244.6 633.8,244.1 637.6,243.7 641.4,243.2 645.2,242.8 649.0,242.4 652.8,242.0 656.6,241.6 660.4,241.2 664.2,240.8 668.0,240.4 671.8,240.1 675.6,239.7"/>
</g>
<path d="M377.90 52.12H388.20 M377.90 132.38H388.20 M377.90 212.65H388.20 M377.90 292.92H388.20 M377.90 373.18H388.20 M427.10 405.40V396.90 M476.30 405.40V396.90 M525.50 405.40V396.90 M574.70 405.40V396.90 M623.90 405.40V396.90" stroke="#000" stroke-width="1.6" fill="none"/>
<path d="M377.90 212.65H673.10" stroke="#00bfbf" stroke-opacity="0.85" stroke-width="1.8"/>
<rect x="377.90" y="20.20" width="295.20" height="385.20" fill="none" stroke="#000" stroke-width="2.6"/>
<g fill="#000">
<text transform="matrix(1.1570 0 0 1 18.30 59.62)" font-family='"Liberation Serif",serif' font-style="normal" font-size="21.70">100</text>
<text transform="matrix(1.1570 0 0 1 30.85 139.88)" font-family='"Liberation Serif",serif' font-style="normal" font-size="21.70">50</text>
<text transform="matrix(1.1570 0 0 1 43.40 220.15)" font-family='"Liberation Serif",serif' font-style="normal" font-size="21.70">0</text>
<text transform="matrix(1.1570 0 0 1 30.85 300.42)" font-family='"Liberation Serif",serif' font-style="normal" font-size="21.70">50</text>
<text transform="matrix(1.1570 0 0 1 18.30 380.68)" font-family='"Liberation Serif",serif' font-style="normal" font-size="21.70">100</text>
<text transform="matrix(1.5746 0 0 1.0 10.40 301.87)" font-family='"Liberation Serif",serif' font-style="normal" font-size="21.70">−</text>
<text transform="matrix(1.5746 0 0 1.0 -2.40 382.13)" font-family='"Liberation Serif",serif' font-style="normal" font-size="21.70">−</text>
<text transform="matrix(1.1230 0 0 1 55.20 425.60)" font-family='"Liberation Serif",serif' font-style="normal" font-size="21.90">0</text>
<text transform="matrix(1.1230 0 0 1 147.38 425.60)" font-family='"Liberation Serif",serif' font-style="normal" font-size="21.90">20</text>
<text transform="matrix(1.1230 0 0 1 246.08 425.60)" font-family='"Liberation Serif",serif' font-style="normal" font-size="21.90">40</text>
<text transform="matrix(1.1230 0 0 1 344.19 425.60)" font-family='"Liberation Serif",serif' font-style="normal" font-size="21.90">60</text>
<text transform="matrix(1.1230 0 0 1 371.75 425.60)" font-family='"Liberation Serif",serif' font-style="normal" font-size="21.90">0</text>
<text transform="matrix(1.1230 0 0 1 463.93 425.60)" font-family='"Liberation Serif",serif' font-style="normal" font-size="21.90">20</text>
<text transform="matrix(1.1230 0 0 1 562.63 425.60)" font-family='"Liberation Serif",serif' font-style="normal" font-size="21.90">40</text>
<text transform="matrix(1.1230 0 0 1 660.74 425.60)" font-family='"Liberation Serif",serif' font-style="normal" font-size="21.90">60</text>
<text transform="matrix(1.4114 0 0 1.0 130.12 11.60)" font-family='"Liberation Serif",serif' font-style="italic" font-size="16.20" stroke="#fff" stroke-width="0.2">α</text>
<text transform="matrix(1.7112 0 0 1.1 148.72 13.22)" font-family='"Liberation Serif",serif' font-style="normal" font-size="16.20">=</text>
<text transform="matrix(1.1943 0 0 1.0 169.66 11.60)" font-family='"Liberation Serif",serif' font-style="normal" font-size="16.20" stroke="#fff" stroke-width="0.2">0</text>
<text transform="matrix(1.0448 0 0 1.0 180.78 11.60)" font-family='"Liberation Serif",serif' font-style="normal" font-size="16.20" stroke="#fff" stroke-width="0.2">.</text>
<text transform="matrix(1.2412 0 0 1.0 185.33 11.60)" font-family='"Liberation Serif",serif' font-style="normal" font-size="16.20" stroke="#fff" stroke-width="0.2">5</text>
<text transform="matrix(1.0777 0 0 1.0 196.44 11.60)" font-family='"Liberation Serif",serif' font-style="normal" font-size="16.20" stroke="#fff" stroke-width="0.2">,</text>
<text transform="matrix(1.4126 0 0 1.0 205.66 11.60)" font-family='"Liberation Serif",serif' font-style="italic" font-size="16.20" stroke="#fff" stroke-width="0.2">λ</text>
<text transform="matrix(1.7776 0 0 1.1 233.27 13.22)" font-family='"Liberation Serif",serif' font-style="normal" font-size="16.20">=</text>
<text transform="matrix(1.1506 0 0 1.0 254.89 11.60)" font-family='"Liberation Serif",serif' font-style="normal" font-size="16.20" stroke="#fff" stroke-width="0.2">0</text>
<text transform="matrix(1.0448 0 0 1.0 265.48 11.60)" font-family='"Liberation Serif",serif' font-style="normal" font-size="16.20" stroke="#fff" stroke-width="0.2">.</text>
<text transform="matrix(1.1339 0 0 1.0 270.43 11.60)" font-family='"Liberation Serif",serif' font-style="normal" font-size="16.20" stroke="#fff" stroke-width="0.2">5</text>
<text transform="matrix(1.6532 0 0 1.0 279.12 11.60)" font-family='"Liberation Serif",serif' font-style="italic" font-size="16.20" stroke="#fff" stroke-width="0.2">t</text>
<text transform="matrix(1.3390 0 0 1.0 454.05 11.60)" font-family='"Liberation Serif",serif' font-style="italic" font-size="16.20" stroke="#fff" stroke-width="0.2">α</text>
<text transform="matrix(1.8174 0 0 1.1 471.93 13.22)" font-family='"Liberation Serif",serif' font-style="normal" font-size="16.20">=</text>
<text transform="matrix(1.1397 0 0 1.0 493.88 11.60)" font-family='"Liberation Serif",serif' font-style="normal" font-size="16.20" stroke="#fff" stroke-width="0.2">1</text>
<text transform="matrix(1.2020 0 0 1.0 504.16 11.60)" font-family='"Liberation Serif",serif' font-style="normal" font-size="16.20" stroke="#fff" stroke-width="0.2">,</text>
<text transform="matrix(1.5267 0 0 1.0 514.60 11.60)" font-family='"Liberation Serif",serif' font-style="italic" font-size="16.20" stroke="#fff" stroke-width="0.2">λ</text>
<text transform="matrix(1.8174 0 0 1.1 541.93 13.22)" font-family='"Liberation Serif",serif' font-style="normal" font-size="16.20">=</text>
<text transform="matrix(1.1943 0 0 1.0 563.06 11.60)" font-family='"Liberation Serif",serif' font-style="normal" font-size="16.20" stroke="#fff" stroke-width="0.2">0</text>
<text transform="matrix(1.0448 0 0 1.0 573.78 11.60)" font-family='"Liberation Serif",serif' font-style="normal" font-size="16.20" stroke="#fff" stroke-width="0.2">.</text>
<text transform="matrix(1.2412 0 0 1.0 578.43 11.60)" font-family='"Liberation Serif",serif' font-style="normal" font-size="16.20" stroke="#fff" stroke-width="0.2">5</text>
<text transform="matrix(1.7018 0 0 1.0 588.29 11.60)" font-family='"Liberation Serif",serif' font-style="italic" font-size="16.20" stroke="#fff" stroke-width="0.2">t</text>
<text transform="matrix(1.6206 0 0 1.0 217.19 13.30)" font-family='"Liberation Serif",serif' font-style="italic" font-size="10.60" stroke="#fff" stroke-width="0.2">R</text>
<text transform="matrix(1.6520 0 0 1.0 525.39 13.30)" font-family='"Liberation Serif",serif' font-style="italic" font-size="10.60" stroke="#fff" stroke-width="0.2">R</text>
<text transform="matrix(0.9967 0 0 1.0 233.71 68.90)" font-family='"Liberation Sans",sans-serif' font-style="normal" font-size="19.30">(</text>
<text transform="matrix(1.2371 0 0 1.0 240.96 67.60)" font-family='"DejaVu Sans",sans-serif' font-style="normal" font-size="14.00">a</text>
<text transform="matrix(0.9967 0 0 1.0 252.29 68.90)" font-family='"Liberation Sans",sans-serif' font-style="normal" font-size="19.30">)</text>
<text transform="matrix(1.3551 0 0 1.0 266.18 67.60)" font-family='"Liberation Serif",serif' font-style="italic" font-size="15.80" stroke="#fff" stroke-width="0.2">k</text>
<text transform="matrix(1.4805 0 0 1.0 276.27 67.60)" font-family='"Liberation Serif",serif' font-style="italic" font-size="15.80" stroke="#fff" stroke-width="0.2">η</text>
<text transform="matrix(1.8362 0 0 1.1 292.36 69.88)" font-family='"Liberation Serif",serif' font-style="normal" font-size="15.80">=</text>
<text transform="matrix(1.2544 0 0 1.0 314.15 67.60)" font-family='"Liberation Serif",serif' font-style="normal" font-size="15.80">0</text>
<text transform="matrix(1.1784 0 0 1.0 324.67 67.60)" font-family='"Liberation Serif",serif' font-style="normal" font-size="15.80">.</text>
<text transform="matrix(1.3177 0 0 1.0 329.90 67.60)" font-family='"Liberation Serif",serif' font-style="normal" font-size="15.80">3</text>
<text transform="matrix(0.9967 0 0 1.0 550.26 68.90)" font-family='"Liberation Sans",sans-serif' font-style="normal" font-size="19.30">(</text>
<text transform="matrix(1.1173 0 0 1.0 557.48 67.60)" font-family='"DejaVu Sans",sans-serif' font-style="normal" font-size="15.00">b</text>
<text transform="matrix(0.9967 0 0 1.0 568.84 68.90)" font-family='"Liberation Sans",sans-serif' font-style="normal" font-size="19.30">)</text>
<text transform="matrix(1.3551 0 0 1.0 582.73 67.60)" font-family='"Liberation Serif",serif' font-style="italic" font-size="15.80" stroke="#fff" stroke-width="0.2">k</text>
<text transform="matrix(1.4805 0 0 1.0 592.82 67.60)" font-family='"Liberation Serif",serif' font-style="italic" font-size="15.80" stroke="#fff" stroke-width="0.2">η</text>
<text transform="matrix(1.8362 0 0 1.1 608.91 69.88)" font-family='"Liberation Serif",serif' font-style="normal" font-size="15.80">=</text>
<text transform="matrix(1.2544 0 0 1.0 630.70 67.60)" font-family='"Liberation Serif",serif' font-style="normal" font-size="15.80">0</text>
<text transform="matrix(1.1784 0 0 1.0 641.22 67.60)" font-family='"Liberation Serif",serif' font-style="normal" font-size="15.80">.</text>
<text transform="matrix(1.3177 0 0 1.0 646.45 67.60)" font-family='"Liberation Serif",serif' font-style="normal" font-size="15.80">3</text>
<text transform="matrix(1.3654 0 0 1.0 180.43 448.30)" font-family='"Liberation Serif",serif' font-style="italic" font-size="17.10" stroke="#fff" stroke-width="0.2">R</text>
<text transform="matrix(1.2978 0 0 1.09 194.32 448.30)" font-family='"Liberation Serif",serif' font-style="normal" font-size="17.10" stroke="#fff" stroke-width="0.2">(</text>
<text transform="matrix(1.5351 0 0 1.0 200.56 448.30)" font-family='"Liberation Serif",serif' font-style="italic" font-size="17.10" stroke="#fff" stroke-width="0.2">n</text>
<text transform="matrix(1.4891 0 0 1.0 212.18 448.30)" font-family='"Liberation Serif",serif' font-style="italic" font-size="17.10" stroke="#fff" stroke-width="0.2">m</text>
<text transform="matrix(1.2068 0 0 1.09 230.73 448.30)" font-family='"Liberation Serif",serif' font-style="normal" font-size="17.10" stroke="#fff" stroke-width="0.2">)</text>
<text transform="matrix(1.3654 0 0 1.0 496.98 448.30)" font-family='"Liberation Serif",serif' font-style="italic" font-size="17.10" stroke="#fff" stroke-width="0.2">R</text>
<text transform="matrix(1.2978 0 0 1.09 510.87 448.30)" font-family='"Liberation Serif",serif' font-style="normal" font-size="17.10" stroke="#fff" stroke-width="0.2">(</text>
<text transform="matrix(1.5351 0 0 1.0 517.11 448.30)" font-family='"Liberation Serif",serif' font-style="italic" font-size="17.10" stroke="#fff" stroke-width="0.2">n</text>
<text transform="matrix(1.4891 0 0 1.0 528.73 448.30)" font-family='"Liberation Serif",serif' font-style="italic" font-size="17.10" stroke="#fff" stroke-width="0.2">m</text>
<text transform="matrix(1.2068 0 0 1.09 547.28 448.30)" font-family='"Liberation Serif",serif' font-style="normal" font-size="17.10" stroke="#fff" stroke-width="0.2">)</text>
<text transform="translate(26.60 242.38) rotate(-90) scale(1.1462 1.2)" font-family='"Liberation Serif",serif' font-style="italic" font-size="16.40" stroke="#fff" stroke-width="0.2">E</text>
<text transform="translate(26.60 229.86) rotate(-90) scale(1.1871 1.37)" font-family='"Liberation Serif",serif' font-style="normal" font-size="16.40" stroke="#fff" stroke-width="0.2">(</text>
<text transform="translate(26.60 224.40) rotate(-90) scale(1.3539 1.2)" font-family='"Liberation Serif",serif' font-style="italic" font-size="16.40" stroke="#fff" stroke-width="0.2">m</text>
<text transform="translate(26.60 209.34) rotate(-90) scale(1.0771 1.2)" font-family='"Liberation Serif",serif' font-style="italic" font-size="16.40" stroke="#fff" stroke-width="0.2">e</text>
<text transform="translate(26.60 201.81) rotate(-90) scale(1.1827 1.2)" font-family='"Liberation Serif",serif' font-style="italic" font-size="16.40" stroke="#fff" stroke-width="0.2">V</text>
<text transform="translate(26.60 187.60) rotate(-90) scale(1.1396 1.37)" font-family='"Liberation Serif",serif' font-style="normal" font-size="16.40" stroke="#fff" stroke-width="0.2">)</text>
</g>
</svg>
</body></html>
